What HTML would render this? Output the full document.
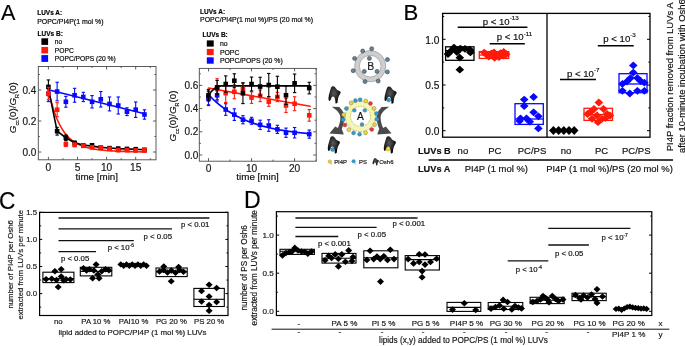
<!DOCTYPE html>
<html><head><meta charset="utf-8"><title>Figure</title>
<style>html,body{margin:0;padding:0;background:#fff;}svg{display:block;will-change:transform;}text{stroke:#111;stroke-width:0.18px;font-family:'Liberation Sans', Arial, Helvetica, sans-serif;}</style>
</head><body>
<svg width="685" height="346" viewBox="0 0 685 346">
<rect x="0" y="0" width="685" height="346" fill="#fff"/>
<text x="1.00" y="20.00" font-size="21.6" text-anchor="start" font-weight="normal" fill="#000" stroke="none">A</text>
<text x="403.40" y="19.80" font-size="22.2" text-anchor="start" font-weight="normal" fill="#000" stroke="none">B</text>
<text transform="translate(-0.9,208.7) scale(0.92,1)" font-size="24.6" fill="#000" stroke="none">C</text>
<text transform="translate(244.1,208.2) scale(0.97,1)" font-size="23.8" fill="#000" stroke="none">D</text>
<polyline points="48.40,89.69 145.59,114.03" fill="none" stroke="#0808ff" stroke-width="1.6" stroke-linejoin="round" stroke-linecap="round"/>
<polyline points="47.82,87.27 48.40,90.00 48.98,92.61 49.56,95.10 50.15,97.49 50.73,99.77 51.31,101.95 51.89,104.04 52.47,106.03 53.06,107.94 53.64,109.77 54.22,111.52 54.80,113.19 55.38,114.79 55.97,116.33 56.55,117.79 57.13,119.19 57.71,120.54 58.29,121.82 58.88,123.05 59.46,124.23 60.04,125.35 60.62,126.43 61.20,127.46 61.79,128.45 62.37,129.40 62.95,130.30 63.53,131.17 64.11,132.00 64.70,132.79 65.28,133.55 65.86,134.28 66.44,134.98 67.02,135.65 67.61,136.29 68.19,136.90 68.77,137.49 69.35,138.05 69.93,138.59 70.52,139.11 71.10,139.61 71.68,140.08 72.26,140.54 72.84,140.97 73.43,141.39 74.01,141.79 74.59,142.17 75.17,142.54 75.75,142.90 76.34,143.24 76.92,143.56 77.50,143.87 78.08,144.17 78.66,144.46 79.25,144.73 79.83,145.00 80.41,145.25 80.99,145.50 81.57,145.73 82.16,145.95 82.74,146.17 83.32,146.38 83.90,146.58 84.48,146.77 85.07,146.95 85.65,147.13 86.23,147.30 86.81,147.46 87.39,147.62 87.98,147.77 88.56,147.91 89.14,148.05 89.72,148.18 90.30,148.31 90.89,148.44 91.47,148.56 92.05,148.67 92.63,148.78 93.21,148.89 93.80,148.99 94.38,149.09 94.96,149.19 95.54,149.28 96.12,149.37 96.71,149.45 97.29,149.53 97.87,149.61 98.45,149.69 99.03,149.76 99.62,149.84 100.20,149.90 100.78,149.97 101.36,150.04 101.94,150.10 102.53,150.16 103.11,150.21 103.69,150.27 104.27,150.32 104.85,150.38 105.44,150.43 106.02,150.48 106.60,150.52 107.18,150.57 107.76,150.61 108.35,150.66 108.93,150.70 109.51,150.74 110.09,150.78 110.67,150.82 111.26,150.85 111.84,150.89 112.42,150.92 113.00,150.96 113.58,150.99 114.17,151.02 114.75,151.05 115.33,151.08 115.91,151.11 116.49,151.14 117.08,151.16 117.66,151.19 118.24,151.22 118.82,151.24 119.40,151.27 119.99,151.29 120.57,151.31 121.15,151.34 121.73,151.36 122.31,151.38 122.90,151.40 123.48,151.42 124.06,151.44 124.64,151.46 125.22,151.48 125.81,151.50 126.39,151.51 126.97,151.53 127.55,151.55 128.13,151.56 128.72,151.58 129.30,151.60 129.88,151.61 130.46,151.63 131.04,151.64 131.63,151.66 132.21,151.67 132.79,151.68 133.37,151.70 133.95,151.71 134.54,151.72 135.12,151.74 135.70,151.75 136.28,151.76 136.86,151.77 137.45,151.78 138.03,151.79 138.61,151.81 139.19,151.82 139.77,151.83 140.36,151.84 140.94,151.85 141.52,151.86 142.10,151.87 142.68,151.88 143.27,151.89 143.85,151.90 144.43,151.91 145.01,151.91 145.59,151.92 146.18,151.93" fill="none" stroke="#ff1a0a" stroke-width="1.6" stroke-linejoin="round" stroke-linecap="round"/>
<polyline points="48.40,88.45 57.13,131.07 65.86,137.74 74.59,142.70 83.32,145.03 92.05,146.11 100.78,147.35 109.51,147.97 118.24,148.59 126.97,148.90 135.70,149.21 144.43,149.68 146.18,149.68" fill="none" stroke="#000" stroke-width="1.6" stroke-linejoin="round" stroke-linecap="round"/>
<line x1="48.40" y1="86.12" x2="48.40" y2="101.62" stroke="#0808ff" stroke-width="1.1" />
<line x1="46.70" y1="86.12" x2="50.10" y2="86.12" stroke="#0808ff" stroke-width="1.1" />
<line x1="46.70" y1="101.62" x2="50.10" y2="101.62" stroke="#0808ff" stroke-width="1.1" />
<rect x="46.10" y="91.58" width="4.6" height="4.6" fill="#0808ff"/>
<line x1="57.13" y1="82.25" x2="57.13" y2="100.85" stroke="#0808ff" stroke-width="1.1" />
<line x1="55.43" y1="82.25" x2="58.83" y2="82.25" stroke="#0808ff" stroke-width="1.1" />
<line x1="55.43" y1="100.85" x2="58.83" y2="100.85" stroke="#0808ff" stroke-width="1.1" />
<rect x="54.83" y="89.25" width="4.6" height="4.6" fill="#0808ff"/>
<line x1="65.86" y1="96.36" x2="65.86" y2="107.20" stroke="#0808ff" stroke-width="1.1" />
<line x1="64.16" y1="96.36" x2="67.56" y2="96.36" stroke="#0808ff" stroke-width="1.1" />
<line x1="64.16" y1="107.20" x2="67.56" y2="107.20" stroke="#0808ff" stroke-width="1.1" />
<rect x="63.56" y="99.48" width="4.6" height="4.6" fill="#0808ff"/>
<line x1="74.59" y1="88.30" x2="74.59" y2="102.25" stroke="#0808ff" stroke-width="1.1" />
<line x1="72.89" y1="88.30" x2="76.29" y2="88.30" stroke="#0808ff" stroke-width="1.1" />
<line x1="72.89" y1="102.25" x2="76.29" y2="102.25" stroke="#0808ff" stroke-width="1.1" />
<rect x="72.29" y="92.97" width="4.6" height="4.6" fill="#0808ff"/>
<line x1="83.32" y1="92.32" x2="83.32" y2="101.62" stroke="#0808ff" stroke-width="1.1" />
<line x1="81.62" y1="92.32" x2="85.02" y2="92.32" stroke="#0808ff" stroke-width="1.1" />
<line x1="81.62" y1="101.62" x2="85.02" y2="101.62" stroke="#0808ff" stroke-width="1.1" />
<rect x="81.02" y="94.67" width="4.6" height="4.6" fill="#0808ff"/>
<line x1="92.05" y1="95.58" x2="92.05" y2="107.98" stroke="#0808ff" stroke-width="1.1" />
<line x1="90.35" y1="95.58" x2="93.75" y2="95.58" stroke="#0808ff" stroke-width="1.1" />
<line x1="90.35" y1="107.98" x2="93.75" y2="107.98" stroke="#0808ff" stroke-width="1.1" />
<rect x="89.75" y="99.48" width="4.6" height="4.6" fill="#0808ff"/>
<line x1="100.78" y1="91.55" x2="100.78" y2="107.05" stroke="#0808ff" stroke-width="1.1" />
<line x1="99.08" y1="91.55" x2="102.48" y2="91.55" stroke="#0808ff" stroke-width="1.1" />
<line x1="99.08" y1="107.05" x2="102.48" y2="107.05" stroke="#0808ff" stroke-width="1.1" />
<rect x="98.48" y="97.00" width="4.6" height="4.6" fill="#0808ff"/>
<line x1="109.51" y1="96.98" x2="109.51" y2="110.92" stroke="#0808ff" stroke-width="1.1" />
<line x1="107.81" y1="96.98" x2="111.21" y2="96.98" stroke="#0808ff" stroke-width="1.1" />
<line x1="107.81" y1="110.92" x2="111.21" y2="110.92" stroke="#0808ff" stroke-width="1.1" />
<rect x="107.21" y="101.65" width="4.6" height="4.6" fill="#0808ff"/>
<line x1="118.24" y1="96.97" x2="118.24" y2="114.03" stroke="#0808ff" stroke-width="1.1" />
<line x1="116.54" y1="96.97" x2="119.94" y2="96.97" stroke="#0808ff" stroke-width="1.1" />
<line x1="116.54" y1="114.03" x2="119.94" y2="114.03" stroke="#0808ff" stroke-width="1.1" />
<rect x="115.94" y="103.20" width="4.6" height="4.6" fill="#0808ff"/>
<line x1="126.97" y1="107.82" x2="126.97" y2="115.57" stroke="#0808ff" stroke-width="1.1" />
<line x1="125.27" y1="107.82" x2="128.67" y2="107.82" stroke="#0808ff" stroke-width="1.1" />
<line x1="125.27" y1="115.57" x2="128.67" y2="115.57" stroke="#0808ff" stroke-width="1.1" />
<rect x="124.67" y="109.40" width="4.6" height="4.6" fill="#0808ff"/>
<line x1="135.70" y1="101.94" x2="135.70" y2="117.44" stroke="#0808ff" stroke-width="1.1" />
<line x1="134.00" y1="101.94" x2="137.40" y2="101.94" stroke="#0808ff" stroke-width="1.1" />
<line x1="134.00" y1="117.44" x2="137.40" y2="117.44" stroke="#0808ff" stroke-width="1.1" />
<rect x="133.40" y="107.39" width="4.6" height="4.6" fill="#0808ff"/>
<line x1="144.43" y1="109.84" x2="144.43" y2="119.14" stroke="#0808ff" stroke-width="1.1" />
<line x1="142.73" y1="109.84" x2="146.13" y2="109.84" stroke="#0808ff" stroke-width="1.1" />
<line x1="142.73" y1="119.14" x2="146.13" y2="119.14" stroke="#0808ff" stroke-width="1.1" />
<rect x="142.13" y="112.19" width="4.6" height="4.6" fill="#0808ff"/>
<line x1="48.40" y1="79.93" x2="48.40" y2="93.88" stroke="#000" stroke-width="1.1" />
<line x1="46.70" y1="79.93" x2="50.10" y2="79.93" stroke="#000" stroke-width="1.1" />
<line x1="46.70" y1="93.88" x2="50.10" y2="93.88" stroke="#000" stroke-width="1.1" />
<rect x="46.10" y="84.60" width="4.6" height="4.6" fill="#000"/>
<line x1="57.13" y1="127.35" x2="57.13" y2="135.10" stroke="#000" stroke-width="1.1" />
<line x1="55.43" y1="127.35" x2="58.83" y2="127.35" stroke="#000" stroke-width="1.1" />
<line x1="55.43" y1="135.10" x2="58.83" y2="135.10" stroke="#000" stroke-width="1.1" />
<rect x="54.83" y="128.93" width="4.6" height="4.6" fill="#000"/>
<line x1="65.86" y1="134.95" x2="65.86" y2="140.53" stroke="#000" stroke-width="1.1" />
<line x1="64.16" y1="134.95" x2="67.56" y2="134.95" stroke="#000" stroke-width="1.1" />
<line x1="64.16" y1="140.53" x2="67.56" y2="140.53" stroke="#000" stroke-width="1.1" />
<rect x="63.56" y="135.44" width="4.6" height="4.6" fill="#000"/>
<line x1="74.59" y1="141.15" x2="74.59" y2="144.87" stroke="#000" stroke-width="1.1" />
<line x1="72.89" y1="141.15" x2="76.29" y2="141.15" stroke="#000" stroke-width="1.1" />
<line x1="72.89" y1="144.87" x2="76.29" y2="144.87" stroke="#000" stroke-width="1.1" />
<rect x="72.29" y="140.71" width="4.6" height="4.6" fill="#000"/>
<line x1="83.32" y1="143.94" x2="83.32" y2="147.04" stroke="#000" stroke-width="1.1" />
<line x1="81.62" y1="143.94" x2="85.02" y2="143.94" stroke="#000" stroke-width="1.1" />
<line x1="81.62" y1="147.04" x2="85.02" y2="147.04" stroke="#000" stroke-width="1.1" />
<rect x="81.02" y="143.19" width="4.6" height="4.6" fill="#000"/>
<line x1="92.05" y1="143.78" x2="92.05" y2="146.89" stroke="#000" stroke-width="1.1" />
<line x1="90.35" y1="143.78" x2="93.75" y2="143.78" stroke="#000" stroke-width="1.1" />
<line x1="90.35" y1="146.89" x2="93.75" y2="146.89" stroke="#000" stroke-width="1.1" />
<rect x="89.75" y="143.03" width="4.6" height="4.6" fill="#000"/>
<line x1="100.78" y1="146.11" x2="100.78" y2="148.59" stroke="#000" stroke-width="1.1" />
<line x1="99.08" y1="146.11" x2="102.48" y2="146.11" stroke="#000" stroke-width="1.1" />
<line x1="99.08" y1="148.59" x2="102.48" y2="148.59" stroke="#000" stroke-width="1.1" />
<rect x="98.48" y="145.05" width="4.6" height="4.6" fill="#000"/>
<line x1="109.51" y1="146.88" x2="109.51" y2="149.37" stroke="#000" stroke-width="1.1" />
<line x1="107.81" y1="146.88" x2="111.21" y2="146.88" stroke="#000" stroke-width="1.1" />
<line x1="107.81" y1="149.37" x2="111.21" y2="149.37" stroke="#000" stroke-width="1.1" />
<rect x="107.21" y="145.82" width="4.6" height="4.6" fill="#000"/>
<line x1="118.24" y1="147.35" x2="118.24" y2="149.83" stroke="#000" stroke-width="1.1" />
<line x1="116.54" y1="147.35" x2="119.94" y2="147.35" stroke="#000" stroke-width="1.1" />
<line x1="116.54" y1="149.83" x2="119.94" y2="149.83" stroke="#000" stroke-width="1.1" />
<rect x="115.94" y="146.29" width="4.6" height="4.6" fill="#000"/>
<line x1="126.97" y1="147.66" x2="126.97" y2="150.14" stroke="#000" stroke-width="1.1" />
<line x1="125.27" y1="147.66" x2="128.67" y2="147.66" stroke="#000" stroke-width="1.1" />
<line x1="125.27" y1="150.14" x2="128.67" y2="150.14" stroke="#000" stroke-width="1.1" />
<rect x="124.67" y="146.60" width="4.6" height="4.6" fill="#000"/>
<line x1="135.70" y1="147.97" x2="135.70" y2="150.45" stroke="#000" stroke-width="1.1" />
<line x1="134.00" y1="147.97" x2="137.40" y2="147.97" stroke="#000" stroke-width="1.1" />
<line x1="134.00" y1="150.45" x2="137.40" y2="150.45" stroke="#000" stroke-width="1.1" />
<rect x="133.40" y="146.91" width="4.6" height="4.6" fill="#000"/>
<line x1="144.43" y1="148.59" x2="144.43" y2="151.07" stroke="#000" stroke-width="1.1" />
<line x1="142.73" y1="148.59" x2="146.13" y2="148.59" stroke="#000" stroke-width="1.1" />
<line x1="142.73" y1="151.07" x2="146.13" y2="151.07" stroke="#000" stroke-width="1.1" />
<rect x="142.13" y="147.53" width="4.6" height="4.6" fill="#000"/>
<line x1="48.40" y1="87.36" x2="48.40" y2="99.77" stroke="#ff1a0a" stroke-width="1.1" />
<line x1="46.70" y1="87.36" x2="50.10" y2="87.36" stroke="#ff1a0a" stroke-width="1.1" />
<line x1="46.70" y1="99.77" x2="50.10" y2="99.77" stroke="#ff1a0a" stroke-width="1.1" />
<rect x="46.10" y="91.27" width="4.6" height="4.6" fill="#ff1a0a"/>
<line x1="57.13" y1="102.71" x2="57.13" y2="116.66" stroke="#ff1a0a" stroke-width="1.1" />
<line x1="55.43" y1="102.71" x2="58.83" y2="102.71" stroke="#ff1a0a" stroke-width="1.1" />
<line x1="55.43" y1="116.66" x2="58.83" y2="116.66" stroke="#ff1a0a" stroke-width="1.1" />
<rect x="54.83" y="107.39" width="4.6" height="4.6" fill="#ff1a0a"/>
<line x1="65.86" y1="141.93" x2="65.86" y2="146.57" stroke="#ff1a0a" stroke-width="1.1" />
<line x1="64.16" y1="141.93" x2="67.56" y2="141.93" stroke="#ff1a0a" stroke-width="1.1" />
<line x1="64.16" y1="146.57" x2="67.56" y2="146.57" stroke="#ff1a0a" stroke-width="1.1" />
<rect x="63.56" y="141.95" width="4.6" height="4.6" fill="#ff1a0a"/>
<line x1="74.59" y1="143.01" x2="74.59" y2="146.73" stroke="#ff1a0a" stroke-width="1.1" />
<line x1="72.89" y1="143.01" x2="76.29" y2="143.01" stroke="#ff1a0a" stroke-width="1.1" />
<line x1="72.89" y1="146.73" x2="76.29" y2="146.73" stroke="#ff1a0a" stroke-width="1.1" />
<rect x="72.29" y="142.57" width="4.6" height="4.6" fill="#ff1a0a"/>
<line x1="83.32" y1="144.25" x2="83.32" y2="147.35" stroke="#ff1a0a" stroke-width="1.1" />
<line x1="81.62" y1="144.25" x2="85.02" y2="144.25" stroke="#ff1a0a" stroke-width="1.1" />
<line x1="81.62" y1="147.35" x2="85.02" y2="147.35" stroke="#ff1a0a" stroke-width="1.1" />
<rect x="81.02" y="143.50" width="4.6" height="4.6" fill="#ff1a0a"/>
<line x1="92.05" y1="145.80" x2="92.05" y2="148.90" stroke="#ff1a0a" stroke-width="1.1" />
<line x1="90.35" y1="145.80" x2="93.75" y2="145.80" stroke="#ff1a0a" stroke-width="1.1" />
<line x1="90.35" y1="148.90" x2="93.75" y2="148.90" stroke="#ff1a0a" stroke-width="1.1" />
<rect x="89.75" y="145.05" width="4.6" height="4.6" fill="#ff1a0a"/>
<line x1="100.78" y1="145.80" x2="100.78" y2="148.90" stroke="#ff1a0a" stroke-width="1.1" />
<line x1="99.08" y1="145.80" x2="102.48" y2="145.80" stroke="#ff1a0a" stroke-width="1.1" />
<line x1="99.08" y1="148.90" x2="102.48" y2="148.90" stroke="#ff1a0a" stroke-width="1.1" />
<rect x="98.48" y="145.05" width="4.6" height="4.6" fill="#ff1a0a"/>
<line x1="109.51" y1="147.35" x2="109.51" y2="150.45" stroke="#ff1a0a" stroke-width="1.1" />
<line x1="107.81" y1="147.35" x2="111.21" y2="147.35" stroke="#ff1a0a" stroke-width="1.1" />
<line x1="107.81" y1="150.45" x2="111.21" y2="150.45" stroke="#ff1a0a" stroke-width="1.1" />
<rect x="107.21" y="146.60" width="4.6" height="4.6" fill="#ff1a0a"/>
<line x1="118.24" y1="148.59" x2="118.24" y2="151.69" stroke="#ff1a0a" stroke-width="1.1" />
<line x1="116.54" y1="148.59" x2="119.94" y2="148.59" stroke="#ff1a0a" stroke-width="1.1" />
<line x1="116.54" y1="151.69" x2="119.94" y2="151.69" stroke="#ff1a0a" stroke-width="1.1" />
<rect x="115.94" y="147.84" width="4.6" height="4.6" fill="#ff1a0a"/>
<line x1="126.97" y1="148.59" x2="126.97" y2="151.69" stroke="#ff1a0a" stroke-width="1.1" />
<line x1="125.27" y1="148.59" x2="128.67" y2="148.59" stroke="#ff1a0a" stroke-width="1.1" />
<line x1="125.27" y1="151.69" x2="128.67" y2="151.69" stroke="#ff1a0a" stroke-width="1.1" />
<rect x="124.67" y="147.84" width="4.6" height="4.6" fill="#ff1a0a"/>
<line x1="135.70" y1="148.90" x2="135.70" y2="152.00" stroke="#ff1a0a" stroke-width="1.1" />
<line x1="134.00" y1="148.90" x2="137.40" y2="148.90" stroke="#ff1a0a" stroke-width="1.1" />
<line x1="134.00" y1="152.00" x2="137.40" y2="152.00" stroke="#ff1a0a" stroke-width="1.1" />
<rect x="133.40" y="148.15" width="4.6" height="4.6" fill="#ff1a0a"/>
<line x1="144.43" y1="148.28" x2="144.43" y2="152.00" stroke="#ff1a0a" stroke-width="1.1" />
<line x1="142.73" y1="148.28" x2="146.13" y2="148.28" stroke="#ff1a0a" stroke-width="1.1" />
<line x1="142.73" y1="152.00" x2="146.13" y2="152.00" stroke="#ff1a0a" stroke-width="1.1" />
<rect x="142.13" y="147.84" width="4.6" height="4.6" fill="#ff1a0a"/>
<rect x="38.30" y="66.50" width="117.70" height="93.30" stroke="#4a4a4a" stroke-width="0.9" fill="none"/>
<line x1="38.30" y1="152.00" x2="41.30" y2="152.00" stroke="#4a4a4a" stroke-width="0.9" />
<line x1="153.00" y1="152.00" x2="156.00" y2="152.00" stroke="#4a4a4a" stroke-width="0.9" />
<text x="36.40" y="155.60" font-size="10" text-anchor="end" font-weight="normal" fill="#222" >0.0</text>
<line x1="38.30" y1="121.00" x2="41.30" y2="121.00" stroke="#4a4a4a" stroke-width="0.9" />
<line x1="153.00" y1="121.00" x2="156.00" y2="121.00" stroke="#4a4a4a" stroke-width="0.9" />
<text x="36.40" y="124.60" font-size="10" text-anchor="end" font-weight="normal" fill="#222" >0.2</text>
<line x1="38.30" y1="90.00" x2="41.30" y2="90.00" stroke="#4a4a4a" stroke-width="0.9" />
<line x1="153.00" y1="90.00" x2="156.00" y2="90.00" stroke="#4a4a4a" stroke-width="0.9" />
<text x="36.40" y="93.60" font-size="10" text-anchor="end" font-weight="normal" fill="#222" >0.4</text>
<line x1="38.30" y1="136.50" x2="39.90" y2="136.50" stroke="#4a4a4a" stroke-width="0.9" />
<line x1="154.40" y1="136.50" x2="156.00" y2="136.50" stroke="#4a4a4a" stroke-width="0.9" />
<line x1="38.30" y1="105.50" x2="39.90" y2="105.50" stroke="#4a4a4a" stroke-width="0.9" />
<line x1="154.40" y1="105.50" x2="156.00" y2="105.50" stroke="#4a4a4a" stroke-width="0.9" />
<line x1="38.30" y1="74.50" x2="39.90" y2="74.50" stroke="#4a4a4a" stroke-width="0.9" />
<line x1="154.40" y1="74.50" x2="156.00" y2="74.50" stroke="#4a4a4a" stroke-width="0.9" />
<line x1="48.40" y1="159.80" x2="48.40" y2="156.80" stroke="#4a4a4a" stroke-width="0.9" />
<line x1="48.40" y1="66.50" x2="48.40" y2="69.50" stroke="#4a4a4a" stroke-width="0.9" />
<text x="48.40" y="171.00" font-size="10.2" text-anchor="middle" font-weight="normal" fill="#222" >0</text>
<line x1="77.50" y1="159.80" x2="77.50" y2="156.80" stroke="#4a4a4a" stroke-width="0.9" />
<line x1="77.50" y1="66.50" x2="77.50" y2="69.50" stroke="#4a4a4a" stroke-width="0.9" />
<text x="77.50" y="171.00" font-size="10.2" text-anchor="middle" font-weight="normal" fill="#222" >5</text>
<line x1="106.60" y1="159.80" x2="106.60" y2="156.80" stroke="#4a4a4a" stroke-width="0.9" />
<line x1="106.60" y1="66.50" x2="106.60" y2="69.50" stroke="#4a4a4a" stroke-width="0.9" />
<text x="106.60" y="171.00" font-size="10.2" text-anchor="middle" font-weight="normal" fill="#222" >10</text>
<line x1="135.70" y1="159.80" x2="135.70" y2="156.80" stroke="#4a4a4a" stroke-width="0.9" />
<line x1="135.70" y1="66.50" x2="135.70" y2="69.50" stroke="#4a4a4a" stroke-width="0.9" />
<text x="135.70" y="171.00" font-size="10.2" text-anchor="middle" font-weight="normal" fill="#222" >15</text>
<line x1="62.95" y1="159.80" x2="62.95" y2="158.20" stroke="#4a4a4a" stroke-width="0.9" />
<line x1="62.95" y1="66.50" x2="62.95" y2="68.10" stroke="#4a4a4a" stroke-width="0.9" />
<line x1="92.05" y1="159.80" x2="92.05" y2="158.20" stroke="#4a4a4a" stroke-width="0.9" />
<line x1="92.05" y1="66.50" x2="92.05" y2="68.10" stroke="#4a4a4a" stroke-width="0.9" />
<line x1="121.15" y1="159.80" x2="121.15" y2="158.20" stroke="#4a4a4a" stroke-width="0.9" />
<line x1="121.15" y1="66.50" x2="121.15" y2="68.10" stroke="#4a4a4a" stroke-width="0.9" />
<line x1="150.25" y1="159.80" x2="150.25" y2="158.20" stroke="#4a4a4a" stroke-width="0.9" />
<line x1="150.25" y1="66.50" x2="150.25" y2="68.10" stroke="#4a4a4a" stroke-width="0.9" />
<text x="96.80" y="179.80" font-size="9.8" text-anchor="middle" font-weight="normal" fill="#111" >time [min]</text>
<text transform="translate(15.7,133.2) rotate(-90)" font-size="9.75" fill="#222"><tspan font-style="italic">G</tspan><tspan font-size="5.4" dy="3.4">cc</tspan><tspan dy="-3.4">(0)/</tspan><tspan font-style="italic">G</tspan><tspan font-size="5.4" dy="3.4">R</tspan><tspan dy="-3.4">(0)</tspan></text>
<text x="37.20" y="14.90" font-size="6.5" text-anchor="start" font-weight="bold" fill="#000" >LUVs A:</text>
<text x="37.20" y="23.80" font-size="6.95" text-anchor="start" font-weight="normal" fill="#000" >POPC/PI4P(1 mol %)</text>
<text x="37.60" y="35.70" font-size="6.5" text-anchor="start" font-weight="bold" fill="#000" >LUVs B:</text>
<rect x="41.40" y="38.30" width="6.70" height="6.60" stroke="none" stroke-width="0" fill="#000"/>
<rect x="41.40" y="46.90" width="6.70" height="6.50" stroke="none" stroke-width="0" fill="#ff1a0a"/>
<rect x="41.40" y="55.10" width="6.70" height="6.80" stroke="none" stroke-width="0" fill="#0808ff"/>
<text x="54.80" y="43.70" font-size="6.7" text-anchor="start" font-weight="normal" fill="#000" >no</text>
<text x="54.80" y="52.50" font-size="6.7" text-anchor="start" font-weight="normal" fill="#000" >POPC</text>
<text x="54.80" y="60.80" font-size="6.7" text-anchor="start" font-weight="normal" fill="#000" >POPC/POPS (20 %)</text>
<polyline points="208.50,88.07 310.10,106.28" fill="none" stroke="#ff1a0a" stroke-width="1.6" stroke-linejoin="round" stroke-linecap="round"/>
<polyline points="208.50,94.68 212.81,90.04 217.11,86.33 221.41,85.86 310.10,85.86" fill="none" stroke="#000" stroke-width="1.6" stroke-linejoin="round" stroke-linecap="round"/>
<polyline points="208.50,94.68 208.93,95.13 209.36,95.58 209.79,96.02 210.22,96.46 210.65,96.90 211.08,97.33 211.51,97.75 211.94,98.17 212.37,98.59 212.81,99.00 213.24,99.40 213.67,99.81 214.10,100.20 214.53,100.60 214.96,100.99 215.39,101.37 215.82,101.75 216.25,102.13 216.68,102.50 217.11,102.87 217.54,103.24 217.97,103.60 218.40,103.96 218.83,104.31 219.26,104.66 219.69,105.01 220.12,105.35 220.55,105.69 220.98,106.02 221.41,106.35 221.85,106.68 222.28,107.01 222.71,107.33 223.14,107.65 223.57,107.96 224.00,108.27 224.43,108.58 224.86,108.88 225.29,109.18 225.72,109.48 226.15,109.77 226.58,110.07 227.01,110.35 227.44,110.64 227.87,110.92 228.30,111.20 228.73,111.48 229.16,111.75 229.59,112.02 230.03,112.29 230.46,112.55 230.89,112.81 231.32,113.07 231.75,113.33 232.18,113.58 232.61,113.83 233.04,114.08 233.47,114.33 233.90,114.57 234.33,114.81 234.76,115.05 235.19,115.28 235.62,115.51 236.05,115.74 236.48,115.97 236.91,116.20 237.34,116.42 237.77,116.64 238.20,116.86 238.63,117.07 239.07,117.29 239.50,117.50 239.93,117.71 240.36,117.91 240.79,118.12 241.22,118.32 241.65,118.52 242.08,118.72 242.51,118.91 242.94,119.11 243.37,119.30 243.80,119.49 244.23,119.68 244.66,119.86 245.09,120.04 245.52,120.23 245.95,120.41 246.38,120.58 246.81,120.76 247.25,120.93 247.68,121.11 248.11,121.28 248.54,121.44 248.97,121.61 249.40,121.78 249.83,121.94 250.26,122.10 250.69,122.26 251.12,122.42 251.55,122.57 251.98,122.73 252.41,122.88 252.84,123.03 253.27,123.18 253.70,123.33 254.13,123.48 254.56,123.62 254.99,123.76 255.42,123.91 255.85,124.05 256.29,124.18 256.72,124.32 257.15,124.46 257.58,124.59 258.01,124.73 258.44,124.86 258.87,124.99 259.30,125.12 259.73,125.24 260.16,125.37 260.59,125.49 261.02,125.62 261.45,125.74 261.88,125.86 262.31,125.98 262.74,126.10 263.17,126.21 263.60,126.33 264.03,126.44 264.46,126.56 264.90,126.67 265.33,126.78 265.76,126.89 266.19,127.00 266.62,127.10 267.05,127.21 267.48,127.32 267.91,127.42 268.34,127.52 268.77,127.62 269.20,127.72 269.63,127.82 270.06,127.92 270.49,128.02 270.92,128.12 271.35,128.21 271.78,128.30 272.21,128.40 272.64,128.49 273.07,128.58 273.51,128.67 273.94,128.76 274.37,128.85 274.80,128.94 275.23,129.02 275.66,129.11 276.09,129.19 276.52,129.28 276.95,129.36 277.38,129.44 277.81,129.52 278.24,129.60 278.67,129.68 279.10,129.76 279.53,129.84 279.96,129.92 280.39,129.99 280.82,130.07 281.25,130.14 281.69,130.21 282.12,130.29 282.55,130.36 282.98,130.43 283.41,130.50 283.84,130.57 284.27,130.64 284.70,130.71 285.13,130.78 285.56,130.84 285.99,130.91 286.42,130.97 286.85,131.04 287.28,131.10 287.71,131.17 288.14,131.23 288.57,131.29 289.00,131.35 289.43,131.41 289.86,131.47 290.29,131.53 290.73,131.59 291.16,131.65 291.59,131.71 292.02,131.76 292.45,131.82 292.88,131.87 293.31,131.93 293.74,131.98 294.17,132.04 294.60,132.09 295.03,132.14 295.46,132.20 295.89,132.25 296.32,132.30 296.75,132.35 297.18,132.40 297.61,132.45 298.04,132.50 298.47,132.55 298.90,132.59 299.34,132.64 299.77,132.69 300.20,132.73 300.63,132.78 301.06,132.82 301.49,132.87 301.92,132.91 302.35,132.96 302.78,133.00 303.21,133.04 303.64,133.09 304.07,133.13 304.50,133.17 304.93,133.21 305.36,133.25 305.79,133.29 306.22,133.33 306.65,133.37 307.08,133.41 307.51,133.45 307.95,133.49 308.38,133.53 308.81,133.56 309.24,133.60 309.67,133.64 310.10,133.67" fill="none" stroke="#0808ff" stroke-width="1.7" stroke-linejoin="round" stroke-linecap="round"/>
<line x1="208.50" y1="90.62" x2="208.50" y2="104.54" stroke="#ff1a0a" stroke-width="1.1" />
<line x1="206.80" y1="90.62" x2="210.20" y2="90.62" stroke="#ff1a0a" stroke-width="1.1" />
<line x1="206.80" y1="104.54" x2="210.20" y2="104.54" stroke="#ff1a0a" stroke-width="1.1" />
<rect x="206.20" y="95.28" width="4.6" height="4.6" fill="#ff1a0a"/>
<line x1="217.11" y1="78.67" x2="217.11" y2="99.55" stroke="#ff1a0a" stroke-width="1.1" />
<line x1="215.41" y1="78.67" x2="218.81" y2="78.67" stroke="#ff1a0a" stroke-width="1.1" />
<line x1="215.41" y1="99.55" x2="218.81" y2="99.55" stroke="#ff1a0a" stroke-width="1.1" />
<rect x="214.81" y="86.81" width="4.6" height="4.6" fill="#ff1a0a"/>
<line x1="225.72" y1="83.89" x2="225.72" y2="102.45" stroke="#ff1a0a" stroke-width="1.1" />
<line x1="224.02" y1="83.89" x2="227.42" y2="83.89" stroke="#ff1a0a" stroke-width="1.1" />
<line x1="224.02" y1="102.45" x2="227.42" y2="102.45" stroke="#ff1a0a" stroke-width="1.1" />
<rect x="223.42" y="90.87" width="4.6" height="4.6" fill="#ff1a0a"/>
<line x1="234.33" y1="84.82" x2="234.33" y2="98.74" stroke="#ff1a0a" stroke-width="1.1" />
<line x1="232.63" y1="84.82" x2="236.03" y2="84.82" stroke="#ff1a0a" stroke-width="1.1" />
<line x1="232.63" y1="98.74" x2="236.03" y2="98.74" stroke="#ff1a0a" stroke-width="1.1" />
<rect x="232.03" y="89.48" width="4.6" height="4.6" fill="#ff1a0a"/>
<line x1="242.94" y1="83.31" x2="242.94" y2="94.91" stroke="#ff1a0a" stroke-width="1.1" />
<line x1="241.24" y1="83.31" x2="244.64" y2="83.31" stroke="#ff1a0a" stroke-width="1.1" />
<line x1="241.24" y1="94.91" x2="244.64" y2="94.91" stroke="#ff1a0a" stroke-width="1.1" />
<rect x="240.64" y="86.81" width="4.6" height="4.6" fill="#ff1a0a"/>
<line x1="251.55" y1="91.78" x2="251.55" y2="103.38" stroke="#ff1a0a" stroke-width="1.1" />
<line x1="249.85" y1="91.78" x2="253.25" y2="91.78" stroke="#ff1a0a" stroke-width="1.1" />
<line x1="249.85" y1="103.38" x2="253.25" y2="103.38" stroke="#ff1a0a" stroke-width="1.1" />
<rect x="249.25" y="95.28" width="4.6" height="4.6" fill="#ff1a0a"/>
<line x1="260.16" y1="90.04" x2="260.16" y2="101.64" stroke="#ff1a0a" stroke-width="1.1" />
<line x1="258.46" y1="90.04" x2="261.86" y2="90.04" stroke="#ff1a0a" stroke-width="1.1" />
<line x1="258.46" y1="101.64" x2="261.86" y2="101.64" stroke="#ff1a0a" stroke-width="1.1" />
<rect x="257.86" y="93.54" width="4.6" height="4.6" fill="#ff1a0a"/>
<line x1="268.77" y1="97.00" x2="268.77" y2="106.28" stroke="#ff1a0a" stroke-width="1.1" />
<line x1="267.07" y1="97.00" x2="270.47" y2="97.00" stroke="#ff1a0a" stroke-width="1.1" />
<line x1="267.07" y1="106.28" x2="270.47" y2="106.28" stroke="#ff1a0a" stroke-width="1.1" />
<rect x="266.47" y="99.34" width="4.6" height="4.6" fill="#ff1a0a"/>
<line x1="277.38" y1="92.36" x2="277.38" y2="101.64" stroke="#ff1a0a" stroke-width="1.1" />
<line x1="275.68" y1="92.36" x2="279.08" y2="92.36" stroke="#ff1a0a" stroke-width="1.1" />
<line x1="275.68" y1="101.64" x2="279.08" y2="101.64" stroke="#ff1a0a" stroke-width="1.1" />
<rect x="275.08" y="94.70" width="4.6" height="4.6" fill="#ff1a0a"/>
<line x1="285.99" y1="98.51" x2="285.99" y2="112.43" stroke="#ff1a0a" stroke-width="1.1" />
<line x1="284.29" y1="98.51" x2="287.69" y2="98.51" stroke="#ff1a0a" stroke-width="1.1" />
<line x1="284.29" y1="112.43" x2="287.69" y2="112.43" stroke="#ff1a0a" stroke-width="1.1" />
<rect x="283.69" y="103.17" width="4.6" height="4.6" fill="#ff1a0a"/>
<line x1="294.60" y1="96.77" x2="294.60" y2="110.69" stroke="#ff1a0a" stroke-width="1.1" />
<line x1="292.90" y1="96.77" x2="296.30" y2="96.77" stroke="#ff1a0a" stroke-width="1.1" />
<line x1="292.90" y1="110.69" x2="296.30" y2="110.69" stroke="#ff1a0a" stroke-width="1.1" />
<rect x="292.30" y="101.43" width="4.6" height="4.6" fill="#ff1a0a"/>
<line x1="309.24" y1="109.53" x2="309.24" y2="121.13" stroke="#ff1a0a" stroke-width="1.1" />
<line x1="307.54" y1="109.53" x2="310.94" y2="109.53" stroke="#ff1a0a" stroke-width="1.1" />
<line x1="307.54" y1="121.13" x2="310.94" y2="121.13" stroke="#ff1a0a" stroke-width="1.1" />
<rect x="306.94" y="113.03" width="4.6" height="4.6" fill="#ff1a0a"/>
<line x1="208.50" y1="91.66" x2="208.50" y2="105.58" stroke="#0808ff" stroke-width="1.1" />
<line x1="206.80" y1="91.66" x2="210.20" y2="91.66" stroke="#0808ff" stroke-width="1.1" />
<line x1="206.80" y1="105.58" x2="210.20" y2="105.58" stroke="#0808ff" stroke-width="1.1" />
<rect x="206.20" y="96.32" width="4.6" height="4.6" fill="#0808ff"/>
<line x1="217.11" y1="89.46" x2="217.11" y2="101.06" stroke="#0808ff" stroke-width="1.1" />
<line x1="215.41" y1="89.46" x2="218.81" y2="89.46" stroke="#0808ff" stroke-width="1.1" />
<line x1="215.41" y1="101.06" x2="218.81" y2="101.06" stroke="#0808ff" stroke-width="1.1" />
<rect x="214.81" y="92.96" width="4.6" height="4.6" fill="#0808ff"/>
<line x1="225.72" y1="103.73" x2="225.72" y2="115.33" stroke="#0808ff" stroke-width="1.1" />
<line x1="224.02" y1="103.73" x2="227.42" y2="103.73" stroke="#0808ff" stroke-width="1.1" />
<line x1="224.02" y1="115.33" x2="227.42" y2="115.33" stroke="#0808ff" stroke-width="1.1" />
<rect x="223.42" y="107.23" width="4.6" height="4.6" fill="#0808ff"/>
<line x1="234.33" y1="108.83" x2="234.33" y2="120.43" stroke="#0808ff" stroke-width="1.1" />
<line x1="232.63" y1="108.83" x2="236.03" y2="108.83" stroke="#0808ff" stroke-width="1.1" />
<line x1="232.63" y1="120.43" x2="236.03" y2="120.43" stroke="#0808ff" stroke-width="1.1" />
<rect x="232.03" y="112.33" width="4.6" height="4.6" fill="#0808ff"/>
<line x1="242.94" y1="115.68" x2="242.94" y2="123.80" stroke="#0808ff" stroke-width="1.1" />
<line x1="241.24" y1="115.68" x2="244.64" y2="115.68" stroke="#0808ff" stroke-width="1.1" />
<line x1="241.24" y1="123.80" x2="244.64" y2="123.80" stroke="#0808ff" stroke-width="1.1" />
<rect x="240.64" y="117.44" width="4.6" height="4.6" fill="#0808ff"/>
<line x1="251.55" y1="117.30" x2="251.55" y2="124.26" stroke="#0808ff" stroke-width="1.1" />
<line x1="249.85" y1="117.30" x2="253.25" y2="117.30" stroke="#0808ff" stroke-width="1.1" />
<line x1="249.85" y1="124.26" x2="253.25" y2="124.26" stroke="#0808ff" stroke-width="1.1" />
<rect x="249.25" y="118.48" width="4.6" height="4.6" fill="#0808ff"/>
<line x1="260.16" y1="120.20" x2="260.16" y2="129.48" stroke="#0808ff" stroke-width="1.1" />
<line x1="258.46" y1="120.20" x2="261.86" y2="120.20" stroke="#0808ff" stroke-width="1.1" />
<line x1="258.46" y1="129.48" x2="261.86" y2="129.48" stroke="#0808ff" stroke-width="1.1" />
<rect x="257.86" y="122.54" width="4.6" height="4.6" fill="#0808ff"/>
<line x1="268.77" y1="119.74" x2="268.77" y2="131.34" stroke="#0808ff" stroke-width="1.1" />
<line x1="267.07" y1="119.74" x2="270.47" y2="119.74" stroke="#0808ff" stroke-width="1.1" />
<line x1="267.07" y1="131.34" x2="270.47" y2="131.34" stroke="#0808ff" stroke-width="1.1" />
<rect x="266.47" y="123.24" width="4.6" height="4.6" fill="#0808ff"/>
<line x1="277.38" y1="125.30" x2="277.38" y2="133.42" stroke="#0808ff" stroke-width="1.1" />
<line x1="275.68" y1="125.30" x2="279.08" y2="125.30" stroke="#0808ff" stroke-width="1.1" />
<line x1="275.68" y1="133.42" x2="279.08" y2="133.42" stroke="#0808ff" stroke-width="1.1" />
<rect x="275.08" y="127.06" width="4.6" height="4.6" fill="#0808ff"/>
<line x1="285.99" y1="128.09" x2="285.99" y2="137.37" stroke="#0808ff" stroke-width="1.1" />
<line x1="284.29" y1="128.09" x2="287.69" y2="128.09" stroke="#0808ff" stroke-width="1.1" />
<line x1="284.29" y1="137.37" x2="287.69" y2="137.37" stroke="#0808ff" stroke-width="1.1" />
<rect x="283.69" y="130.43" width="4.6" height="4.6" fill="#0808ff"/>
<line x1="294.60" y1="127.51" x2="294.60" y2="137.95" stroke="#0808ff" stroke-width="1.1" />
<line x1="292.90" y1="127.51" x2="296.30" y2="127.51" stroke="#0808ff" stroke-width="1.1" />
<line x1="292.90" y1="137.95" x2="296.30" y2="137.95" stroke="#0808ff" stroke-width="1.1" />
<rect x="292.30" y="130.43" width="4.6" height="4.6" fill="#0808ff"/>
<line x1="309.24" y1="130.06" x2="309.24" y2="138.18" stroke="#0808ff" stroke-width="1.1" />
<line x1="307.54" y1="130.06" x2="310.94" y2="130.06" stroke="#0808ff" stroke-width="1.1" />
<line x1="307.54" y1="138.18" x2="310.94" y2="138.18" stroke="#0808ff" stroke-width="1.1" />
<rect x="306.94" y="131.82" width="4.6" height="4.6" fill="#0808ff"/>
<line x1="208.50" y1="89.46" x2="208.50" y2="101.06" stroke="#000" stroke-width="1.1" />
<line x1="206.80" y1="89.46" x2="210.20" y2="89.46" stroke="#000" stroke-width="1.1" />
<line x1="206.80" y1="101.06" x2="210.20" y2="101.06" stroke="#000" stroke-width="1.1" />
<rect x="206.20" y="92.96" width="4.6" height="4.6" fill="#000"/>
<line x1="217.11" y1="80.41" x2="217.11" y2="94.33" stroke="#000" stroke-width="1.1" />
<line x1="215.41" y1="80.41" x2="218.81" y2="80.41" stroke="#000" stroke-width="1.1" />
<line x1="215.41" y1="94.33" x2="218.81" y2="94.33" stroke="#000" stroke-width="1.1" />
<rect x="214.81" y="85.07" width="4.6" height="4.6" fill="#000"/>
<line x1="225.72" y1="75.89" x2="225.72" y2="92.13" stroke="#000" stroke-width="1.1" />
<line x1="224.02" y1="75.89" x2="227.42" y2="75.89" stroke="#000" stroke-width="1.1" />
<line x1="224.02" y1="92.13" x2="227.42" y2="92.13" stroke="#000" stroke-width="1.1" />
<rect x="223.42" y="81.71" width="4.6" height="4.6" fill="#000"/>
<line x1="234.33" y1="73.80" x2="234.33" y2="87.72" stroke="#000" stroke-width="1.1" />
<line x1="232.63" y1="73.80" x2="236.03" y2="73.80" stroke="#000" stroke-width="1.1" />
<line x1="232.63" y1="87.72" x2="236.03" y2="87.72" stroke="#000" stroke-width="1.1" />
<rect x="232.03" y="78.46" width="4.6" height="4.6" fill="#000"/>
<line x1="242.94" y1="82.73" x2="242.94" y2="103.61" stroke="#000" stroke-width="1.1" />
<line x1="241.24" y1="82.73" x2="244.64" y2="82.73" stroke="#000" stroke-width="1.1" />
<line x1="241.24" y1="103.61" x2="244.64" y2="103.61" stroke="#000" stroke-width="1.1" />
<rect x="240.64" y="90.87" width="4.6" height="4.6" fill="#000"/>
<line x1="251.55" y1="77.05" x2="251.55" y2="90.97" stroke="#000" stroke-width="1.1" />
<line x1="249.85" y1="77.05" x2="253.25" y2="77.05" stroke="#000" stroke-width="1.1" />
<line x1="249.85" y1="90.97" x2="253.25" y2="90.97" stroke="#000" stroke-width="1.1" />
<rect x="249.25" y="81.71" width="4.6" height="4.6" fill="#000"/>
<line x1="260.16" y1="77.28" x2="260.16" y2="95.84" stroke="#000" stroke-width="1.1" />
<line x1="258.46" y1="77.28" x2="261.86" y2="77.28" stroke="#000" stroke-width="1.1" />
<line x1="258.46" y1="95.84" x2="261.86" y2="95.84" stroke="#000" stroke-width="1.1" />
<rect x="257.86" y="84.26" width="4.6" height="4.6" fill="#000"/>
<line x1="268.77" y1="73.45" x2="268.77" y2="96.65" stroke="#000" stroke-width="1.1" />
<line x1="267.07" y1="73.45" x2="270.47" y2="73.45" stroke="#000" stroke-width="1.1" />
<line x1="267.07" y1="96.65" x2="270.47" y2="96.65" stroke="#000" stroke-width="1.1" />
<rect x="266.47" y="82.75" width="4.6" height="4.6" fill="#000"/>
<line x1="277.38" y1="76.24" x2="277.38" y2="97.12" stroke="#000" stroke-width="1.1" />
<line x1="275.68" y1="76.24" x2="279.08" y2="76.24" stroke="#000" stroke-width="1.1" />
<line x1="275.68" y1="97.12" x2="279.08" y2="97.12" stroke="#000" stroke-width="1.1" />
<rect x="275.08" y="84.38" width="4.6" height="4.6" fill="#000"/>
<line x1="285.99" y1="85.98" x2="285.99" y2="104.54" stroke="#000" stroke-width="1.1" />
<line x1="284.29" y1="85.98" x2="287.69" y2="85.98" stroke="#000" stroke-width="1.1" />
<line x1="284.29" y1="104.54" x2="287.69" y2="104.54" stroke="#000" stroke-width="1.1" />
<rect x="283.69" y="92.96" width="4.6" height="4.6" fill="#000"/>
<line x1="294.60" y1="74.03" x2="294.60" y2="92.59" stroke="#000" stroke-width="1.1" />
<line x1="292.90" y1="74.03" x2="296.30" y2="74.03" stroke="#000" stroke-width="1.1" />
<line x1="292.90" y1="92.59" x2="296.30" y2="92.59" stroke="#000" stroke-width="1.1" />
<rect x="292.30" y="81.01" width="4.6" height="4.6" fill="#000"/>
<line x1="309.24" y1="82.27" x2="309.24" y2="93.87" stroke="#000" stroke-width="1.1" />
<line x1="307.54" y1="82.27" x2="310.94" y2="82.27" stroke="#000" stroke-width="1.1" />
<line x1="307.54" y1="93.87" x2="310.94" y2="93.87" stroke="#000" stroke-width="1.1" />
<rect x="306.94" y="85.77" width="4.6" height="4.6" fill="#000"/>
<rect x="199.30" y="68.40" width="116.90" height="92.80" stroke="#4a4a4a" stroke-width="0.9" fill="none"/>
<line x1="199.30" y1="155.00" x2="202.30" y2="155.00" stroke="#4a4a4a" stroke-width="0.9" />
<line x1="313.20" y1="155.00" x2="316.20" y2="155.00" stroke="#4a4a4a" stroke-width="0.9" />
<text x="198.30" y="158.60" font-size="10" text-anchor="end" font-weight="normal" fill="#222" >0.0</text>
<line x1="199.30" y1="131.80" x2="202.30" y2="131.80" stroke="#4a4a4a" stroke-width="0.9" />
<line x1="313.20" y1="131.80" x2="316.20" y2="131.80" stroke="#4a4a4a" stroke-width="0.9" />
<text x="198.30" y="135.40" font-size="10" text-anchor="end" font-weight="normal" fill="#222" >0.2</text>
<line x1="199.30" y1="108.60" x2="202.30" y2="108.60" stroke="#4a4a4a" stroke-width="0.9" />
<line x1="313.20" y1="108.60" x2="316.20" y2="108.60" stroke="#4a4a4a" stroke-width="0.9" />
<text x="198.30" y="112.20" font-size="10" text-anchor="end" font-weight="normal" fill="#222" >0.4</text>
<line x1="199.30" y1="85.40" x2="202.30" y2="85.40" stroke="#4a4a4a" stroke-width="0.9" />
<line x1="313.20" y1="85.40" x2="316.20" y2="85.40" stroke="#4a4a4a" stroke-width="0.9" />
<text x="198.30" y="89.00" font-size="10" text-anchor="end" font-weight="normal" fill="#222" >0.6</text>
<line x1="199.30" y1="143.40" x2="200.90" y2="143.40" stroke="#4a4a4a" stroke-width="0.9" />
<line x1="314.60" y1="143.40" x2="316.20" y2="143.40" stroke="#4a4a4a" stroke-width="0.9" />
<line x1="199.30" y1="120.20" x2="200.90" y2="120.20" stroke="#4a4a4a" stroke-width="0.9" />
<line x1="314.60" y1="120.20" x2="316.20" y2="120.20" stroke="#4a4a4a" stroke-width="0.9" />
<line x1="199.30" y1="97.00" x2="200.90" y2="97.00" stroke="#4a4a4a" stroke-width="0.9" />
<line x1="314.60" y1="97.00" x2="316.20" y2="97.00" stroke="#4a4a4a" stroke-width="0.9" />
<line x1="199.30" y1="73.80" x2="200.90" y2="73.80" stroke="#4a4a4a" stroke-width="0.9" />
<line x1="314.60" y1="73.80" x2="316.20" y2="73.80" stroke="#4a4a4a" stroke-width="0.9" />
<line x1="208.50" y1="161.20" x2="208.50" y2="158.20" stroke="#4a4a4a" stroke-width="0.9" />
<line x1="208.50" y1="68.40" x2="208.50" y2="71.40" stroke="#4a4a4a" stroke-width="0.9" />
<text x="208.50" y="172.40" font-size="10.2" text-anchor="middle" font-weight="normal" fill="#222" >0</text>
<line x1="251.55" y1="161.20" x2="251.55" y2="158.20" stroke="#4a4a4a" stroke-width="0.9" />
<line x1="251.55" y1="68.40" x2="251.55" y2="71.40" stroke="#4a4a4a" stroke-width="0.9" />
<text x="251.55" y="172.40" font-size="10.2" text-anchor="middle" font-weight="normal" fill="#222" >10</text>
<line x1="294.60" y1="161.20" x2="294.60" y2="158.20" stroke="#4a4a4a" stroke-width="0.9" />
<line x1="294.60" y1="68.40" x2="294.60" y2="71.40" stroke="#4a4a4a" stroke-width="0.9" />
<text x="294.60" y="172.40" font-size="10.2" text-anchor="middle" font-weight="normal" fill="#222" >20</text>
<line x1="230.03" y1="161.20" x2="230.03" y2="159.60" stroke="#4a4a4a" stroke-width="0.9" />
<line x1="230.03" y1="68.40" x2="230.03" y2="70.00" stroke="#4a4a4a" stroke-width="0.9" />
<line x1="273.07" y1="161.20" x2="273.07" y2="159.60" stroke="#4a4a4a" stroke-width="0.9" />
<line x1="273.07" y1="68.40" x2="273.07" y2="70.00" stroke="#4a4a4a" stroke-width="0.9" />
<line x1="316.12" y1="161.20" x2="316.12" y2="159.60" stroke="#4a4a4a" stroke-width="0.9" />
<line x1="316.12" y1="68.40" x2="316.12" y2="70.00" stroke="#4a4a4a" stroke-width="0.9" />
<text x="257.60" y="179.80" font-size="9.8" text-anchor="middle" font-weight="normal" fill="#111" >time [min]</text>
<text transform="translate(175.7,141.6) rotate(-90)" font-size="9.75" fill="#222"><tspan font-style="italic">G</tspan><tspan font-size="5.4" dy="3.4">cc</tspan><tspan dy="-3.4">(0)/</tspan><tspan font-style="italic">G</tspan><tspan font-size="5.4" dy="3.4">R</tspan><tspan dy="-3.4">(0)</tspan></text>
<text x="200.10" y="13.70" font-size="6.5" text-anchor="start" font-weight="bold" fill="#000" >LUVs A:</text>
<text x="200.10" y="21.90" font-size="6.95" text-anchor="start" font-weight="normal" fill="#000" >POPC/PI4P(1 mol %)/PS (20 mol %)</text>
<text x="202.50" y="37.40" font-size="6.5" text-anchor="start" font-weight="bold" fill="#000" >LUVs B:</text>
<rect x="206.80" y="40.40" width="6.90" height="6.20" stroke="none" stroke-width="0" fill="#000"/>
<rect x="206.80" y="48.90" width="6.90" height="6.20" stroke="none" stroke-width="0" fill="#ff1a0a"/>
<rect x="206.80" y="57.30" width="6.90" height="6.40" stroke="none" stroke-width="0" fill="#0808ff"/>
<text x="219.90" y="45.60" font-size="6.9" text-anchor="start" font-weight="normal" fill="#000" >no</text>
<text x="219.90" y="54.50" font-size="6.9" text-anchor="start" font-weight="normal" fill="#000" >POPC</text>
<text x="219.90" y="62.80" font-size="6.9" text-anchor="start" font-weight="normal" fill="#000" >POPC/POPS (20 %)</text>
<defs>
<radialGradient id="og" cx="0.45" cy="0.4" r="0.55"><stop offset="0" stop-color="#5a5a5a"/><stop offset="0.6" stop-color="#2a2a2a"/><stop offset="1" stop-color="#050505"/></radialGradient>
<path id="osh" d="M0.4 14.5C0 13 0 12.5 0 11.7C0.1 10 0.4 8.5 0.7 7.5C1.2 5.5 1.6 4 2.1 2.6C2.6 1.2 3.2 0.1 4.2 0C5.2 -0.1 6 0.3 6.6 0.9C7.4 1.6 7.8 2.6 8.3 3.3C9 4 9.8 4.1 10.4 4.4C11.2 4.7 11.8 4.9 12 5.4C12.2 6 12.1 6.6 11.8 7.2C11.4 8 10.8 8.8 10.4 9.6C9.8 10.8 9.6 12 9.4 13.1C9.2 14.3 9.1 15.5 9 16.5C8.4 17.1 7.6 17.3 7 17.2C7 16 6.9 14.8 6.6 13.8C6.4 12.8 6.3 11.9 5.9 11.3C5.5 10.7 5.1 10.3 4.5 10.3C3.9 10.3 3.5 10.7 3.1 11.3C2.7 12 2.4 12.9 2.1 13.8C1.6 14.5 0.9 14.8 0.4 14.5Z" fill="url(#og)"/>
</defs>
<circle cx="370.2" cy="66.2" r="13.2" fill="none" stroke="#cecece" stroke-width="4.8"/>
<circle cx="370.2" cy="66.2" r="15.6" fill="none" stroke="#989898" stroke-width="0.7"/>
<circle cx="370.2" cy="66.2" r="10.8" fill="none" stroke="#989898" stroke-width="0.7"/>
<circle cx="362.70" cy="51.00" r="2.0" fill="#6a8494" stroke="#33434d" stroke-width="0.6"/>
<circle cx="371.70" cy="48.70" r="2.0" fill="#6a8494" stroke="#33434d" stroke-width="0.6"/>
<circle cx="354.60" cy="58.40" r="2.0" fill="#6a8494" stroke="#33434d" stroke-width="0.6"/>
<circle cx="387.40" cy="59.60" r="2.0" fill="#6a8494" stroke="#33434d" stroke-width="0.6"/>
<circle cx="369.40" cy="58.40" r="2.0" fill="#6a8494" stroke="#33434d" stroke-width="0.6"/>
<circle cx="353.20" cy="70.70" r="2.0" fill="#6a8494" stroke="#33434d" stroke-width="0.6"/>
<circle cx="364.30" cy="71.40" r="2.0" fill="#6a8494" stroke="#33434d" stroke-width="0.6"/>
<circle cx="377.00" cy="71.40" r="2.0" fill="#6a8494" stroke="#33434d" stroke-width="0.6"/>
<circle cx="387.40" cy="71.90" r="2.0" fill="#6a8494" stroke="#33434d" stroke-width="0.6"/>
<circle cx="365.00" cy="81.60" r="2.0" fill="#6a8494" stroke="#33434d" stroke-width="0.6"/>
<circle cx="378.20" cy="81.10" r="2.0" fill="#6a8494" stroke="#33434d" stroke-width="0.6"/>
<text x="370.59999999999997" y="70.0" font-size="10.4" text-anchor="middle" fill="#222">B</text>
<path d="M331.8 106.8L339.3 107.0C343.0 110.5 344.6 114.0 344.4 117.5C344.2 121.5 343.2 125.5 341.8 129.0L343.8 134.4L329.4 133.4L335.2 126.4L337.9 128.0C339.4 124.5 340.4 121.0 340.4 117.5C340.4 114.0 337.5 110.5 331.8 106.8Z" fill="#4a4a4a"/>
<path d="M389.2 106.8L381.7 107.0C378.0 110.5 376.4 114.0 376.6 117.5C376.8 121.5 377.8 125.5 379.2 129.0L377.2 134.4L391.6 133.4L385.8 126.4L383.1 128.0C381.6 124.5 380.6 121.0 380.6 117.5C380.6 114.0 383.5 110.5 389.2 106.8Z" fill="#4a4a4a"/>
<circle cx="360.5" cy="116.4" r="12.6" fill="none" stroke="#f6f6b4" stroke-width="5.4"/>
<circle cx="360.5" cy="116.4" r="15.2" fill="none" stroke="#8a8a3a" stroke-width="0.7" stroke-dasharray="0.8 0.9"/>
<circle cx="360.5" cy="116.4" r="10.0" fill="#fff" stroke="#8a8a3a" stroke-width="0.7" stroke-dasharray="0.8 0.9"/>
<circle cx="351.11" cy="102.84" r="2.0" fill="#f0d832" stroke="#666" stroke-width="0.4"/>
<circle cx="355.43" cy="100.59" r="2.0" fill="#2a9fd6" stroke="#666" stroke-width="0.4"/>
<circle cx="360.12" cy="99.65" r="2.0" fill="#2a9fd6" stroke="#666" stroke-width="0.4"/>
<circle cx="365.76" cy="100.96" r="2.0" fill="#f0d832" stroke="#666" stroke-width="0.4"/>
<circle cx="370.45" cy="103.40" r="2.0" fill="#f03030" stroke="#666" stroke-width="0.4"/>
<circle cx="374.02" cy="108.47" r="2.0" fill="#f0d832" stroke="#666" stroke-width="0.4"/>
<circle cx="376.46" cy="113.54" r="2.0" fill="#2a9fd6" stroke="#666" stroke-width="0.4"/>
<circle cx="376.84" cy="119.37" r="2.0" fill="#2a9fd6" stroke="#666" stroke-width="0.4"/>
<circle cx="374.58" cy="124.81" r="2.0" fill="#f0d832" stroke="#666" stroke-width="0.4"/>
<circle cx="371.77" cy="129.51" r="2.0" fill="#f03030" stroke="#666" stroke-width="0.4"/>
<circle cx="365.57" cy="132.89" r="2.0" fill="#f0d832" stroke="#666" stroke-width="0.4"/>
<circle cx="359.56" cy="134.20" r="2.0" fill="#2a9fd6" stroke="#666" stroke-width="0.4"/>
<circle cx="353.55" cy="132.89" r="2.0" fill="#2a9fd6" stroke="#666" stroke-width="0.4"/>
<circle cx="348.85" cy="129.69" r="2.0" fill="#f0d832" stroke="#666" stroke-width="0.4"/>
<circle cx="344.91" cy="125.00" r="2.0" fill="#f03030" stroke="#666" stroke-width="0.4"/>
<circle cx="343.22" cy="119.74" r="2.0" fill="#2a9fd6" stroke="#666" stroke-width="0.4"/>
<circle cx="343.60" cy="114.67" r="2.0" fill="#f0d832" stroke="#666" stroke-width="0.4"/>
<circle cx="346.41" cy="108.47" r="2.0" fill="#2a9fd6" stroke="#666" stroke-width="0.4"/>
<circle cx="354.30" cy="110.35" r="1.9" fill="#2a9fd6" stroke="#666" stroke-width="0.4"/>
<circle cx="364.82" cy="110.35" r="1.9" fill="#2a9fd6" stroke="#666" stroke-width="0.4"/>
<circle cx="362.00" cy="124.44" r="1.9" fill="#2a9fd6" stroke="#666" stroke-width="0.4"/>
<text x="360.5" y="120.0" font-size="10.2" text-anchor="middle" fill="#111">A</text>
<use href="#osh" x="328.5" y="86.3"/>
<use href="#osh" x="384.5" y="86.5"/>
<use href="#osh" x="327.8" y="136.3"/>
<use href="#osh" x="383.8" y="136.3"/>
<circle cx="388.70" cy="99.90" r="2.0" fill="#2a9fd6" stroke="#1a6f98" stroke-width="0.4"/>
<circle cx="332.50" cy="149.60" r="2.0" fill="#2a9fd6" stroke="#1a6f98" stroke-width="0.4"/>
<circle cx="388.00" cy="149.20" r="2.0" fill="#f0d832" stroke="#a89a20" stroke-width="0.4"/>
<line x1="330.40" y1="162.60" x2="331.60" y2="164.60" stroke="#777" stroke-width="0.6" />
<circle cx="329.80" cy="161.60" r="1.7" fill="#f0d832" stroke="#8a7a20" stroke-width="0.4"/>
<line x1="354.40" y1="162.40" x2="355.80" y2="164.40" stroke="#777" stroke-width="0.6" />
<circle cx="353.60" cy="161.30" r="1.7" fill="#2a9fd6" stroke="#1a6f98" stroke-width="0.4"/>
<text x="334.2" y="164" font-size="5.9" font-family="'DejaVu Sans', 'Liberation Sans', sans-serif" fill="#222" stroke="none">PI4P</text>
<text x="359" y="164" font-size="5.9" font-family="'DejaVu Sans', 'Liberation Sans', sans-serif" fill="#222" stroke="none">PS</text>
<use href="#osh" transform="translate(372.6,158.2) scale(0.52,0.42)"/>
<text x="379.2" y="164" font-size="6" font-family="'DejaVu Sans', 'Liberation Sans', sans-serif" fill="#222" stroke="none">Osh6</text>
<rect x="445.60" y="46.80" width="28.40" height="13.50" stroke="#000" stroke-width="1.3" fill="none"/>
<line x1="445.60" y1="50.60" x2="474.00" y2="50.60" stroke="#000" stroke-width="1.3" />
<path d="M449.70 47.60L454.00 43.70L458.30 47.60L454.00 51.50Z" fill="#000"/>
<path d="M456.00 48.60L460.30 44.70L464.60 48.60L460.30 52.50Z" fill="#000"/>
<path d="M460.70 48.80L465.00 44.90L469.30 48.80L465.00 52.70Z" fill="#000"/>
<path d="M465.40 49.60L469.70 45.70L474.00 49.60L469.70 53.50Z" fill="#000"/>
<path d="M443.70 54.00L448.00 50.10L452.30 54.00L448.00 57.90Z" fill="#000"/>
<path d="M466.10 52.40L470.40 48.50L474.70 52.40L470.40 56.30Z" fill="#000"/>
<path d="M455.50 57.70L459.80 53.80L464.10 57.70L459.80 61.60Z" fill="#000"/>
<path d="M455.50 69.70L459.80 65.80L464.10 69.70L459.80 73.60Z" fill="#000"/>
<path d="M447.20 50.50L451.50 46.60L455.80 50.50L451.50 54.40Z" fill="#000"/>
<path d="M452.70 52.00L457.00 48.10L461.30 52.00L457.00 55.90Z" fill="#000"/>
<rect x="479.30" y="51.60" width="29.40" height="6.80" stroke="#ff1a0a" stroke-width="1.3" fill="none"/>
<line x1="479.30" y1="55.00" x2="508.70" y2="55.00" stroke="#ff1a0a" stroke-width="1.3" />
<path d="M479.90 52.60L484.20 48.70L488.50 52.60L484.20 56.50Z" fill="#ff1a0a"/>
<path d="M484.50 56.50L488.80 52.60L493.10 56.50L488.80 60.40Z" fill="#ff1a0a"/>
<path d="M482.20 54.50L486.50 50.60L490.80 54.50L486.50 58.40Z" fill="#ff1a0a"/>
<path d="M487.20 53.50L491.50 49.60L495.80 53.50L491.50 57.40Z" fill="#ff1a0a"/>
<path d="M489.70 52.40L494.00 48.50L498.30 52.40L494.00 56.30Z" fill="#ff1a0a"/>
<path d="M490.30 57.80L494.60 53.90L498.90 57.80L494.60 61.70Z" fill="#ff1a0a"/>
<path d="M493.20 55.00L497.50 51.10L501.80 55.00L497.50 58.90Z" fill="#ff1a0a"/>
<path d="M496.20 53.20L500.50 49.30L504.80 53.20L500.50 57.10Z" fill="#ff1a0a"/>
<path d="M499.40 52.00L503.70 48.10L508.00 52.00L503.70 55.90Z" fill="#ff1a0a"/>
<path d="M499.40 55.60L503.70 51.70L508.00 55.60L503.70 59.50Z" fill="#ff1a0a"/>
<path d="M501.90 54.20L506.20 50.30L510.50 54.20L506.20 58.10Z" fill="#ff1a0a"/>
<path d="M494.70 57.00L499.00 53.10L503.30 57.00L499.00 60.90Z" fill="#ff1a0a"/>
<rect x="515.00" y="103.70" width="28.30" height="20.70" stroke="#0808ff" stroke-width="1.3" fill="none"/>
<line x1="515.00" y1="119.00" x2="543.30" y2="119.00" stroke="#0808ff" stroke-width="1.3" />
<path d="M519.90 99.60L524.20 95.70L528.50 99.60L524.20 103.50Z" fill="#0808ff"/>
<path d="M529.30 97.00L533.60 93.10L537.90 97.00L533.60 100.90Z" fill="#0808ff"/>
<path d="M519.90 106.00L524.20 102.10L528.50 106.00L524.20 109.90Z" fill="#0808ff"/>
<path d="M529.30 112.30L533.60 108.40L537.90 112.30L533.60 116.20Z" fill="#0808ff"/>
<path d="M534.10 116.30L538.40 112.40L542.70 116.30L538.40 120.20Z" fill="#0808ff"/>
<path d="M515.30 120.90L519.60 117.00L523.90 120.90L519.60 124.80Z" fill="#0808ff"/>
<path d="M525.50 121.70L529.80 117.80L534.10 121.70L529.80 125.60Z" fill="#0808ff"/>
<path d="M534.10 128.40L538.40 124.50L542.70 128.40L538.40 132.30Z" fill="#0808ff"/>
<path d="M522.20 118.50L526.50 114.60L530.80 118.50L526.50 122.40Z" fill="#0808ff"/>
<path d="M516.20 118.50L520.50 114.60L524.80 118.50L520.50 122.40Z" fill="#0808ff"/>
<path d="M549.10 130.50L553.40 125.90L557.70 130.50L553.40 135.10Z" fill="#000"/>
<path d="M554.30 130.50L558.60 125.90L562.90 130.50L558.60 135.10Z" fill="#000"/>
<path d="M559.50 130.50L563.80 125.90L568.10 130.50L563.80 135.10Z" fill="#000"/>
<path d="M564.70 130.50L569.00 125.90L573.30 130.50L569.00 135.10Z" fill="#000"/>
<path d="M569.90 130.50L574.20 125.90L578.50 130.50L574.20 135.10Z" fill="#000"/>
<line x1="549.50" y1="130.40" x2="577.50" y2="130.40" stroke="#000" stroke-width="1.0" />
<rect x="584.00" y="108.30" width="28.50" height="12.10" stroke="#ff1a0a" stroke-width="1.3" fill="none"/>
<line x1="584.00" y1="114.50" x2="612.50" y2="114.50" stroke="#ff1a0a" stroke-width="1.3" />
<path d="M594.50 102.50L598.80 98.60L603.10 102.50L598.80 106.40Z" fill="#ff1a0a"/>
<path d="M589.70 109.00L594.00 105.10L598.30 109.00L594.00 112.90Z" fill="#ff1a0a"/>
<path d="M599.20 109.00L603.50 105.10L607.80 109.00L603.50 112.90Z" fill="#ff1a0a"/>
<path d="M583.20 114.00L587.50 110.10L591.80 114.00L587.50 117.90Z" fill="#ff1a0a"/>
<path d="M592.70 115.50L597.00 111.60L601.30 115.50L597.00 119.40Z" fill="#ff1a0a"/>
<path d="M602.70 114.00L607.00 110.10L611.30 114.00L607.00 117.90Z" fill="#ff1a0a"/>
<path d="M587.70 118.80L592.00 114.90L596.30 118.80L592.00 122.70Z" fill="#ff1a0a"/>
<path d="M597.70 118.80L602.00 114.90L606.30 118.80L602.00 122.70Z" fill="#ff1a0a"/>
<path d="M593.70 122.20L598.00 118.30L602.30 122.20L598.00 126.10Z" fill="#ff1a0a"/>
<path d="M605.70 115.50L610.00 111.60L614.30 115.50L610.00 119.40Z" fill="#ff1a0a"/>
<path d="M586.20 112.00L590.50 108.10L594.80 112.00L590.50 115.90Z" fill="#ff1a0a"/>
<path d="M601.20 118.00L605.50 114.10L609.80 118.00L605.50 121.90Z" fill="#ff1a0a"/>
<rect x="619.00" y="73.70" width="28.00" height="19.00" stroke="#0808ff" stroke-width="1.3" fill="none"/>
<line x1="619.00" y1="84.00" x2="647.00" y2="84.00" stroke="#0808ff" stroke-width="1.3" />
<path d="M629.00 65.40L633.30 61.50L637.60 65.40L633.30 69.30Z" fill="#0808ff"/>
<path d="M629.00 72.60L633.30 68.70L637.60 72.60L633.30 76.50Z" fill="#0808ff"/>
<path d="M626.20 78.10L630.50 74.20L634.80 78.10L630.50 82.00Z" fill="#0808ff"/>
<path d="M633.10 78.10L637.40 74.20L641.70 78.10L637.40 82.00Z" fill="#0808ff"/>
<path d="M618.10 83.90L622.40 80.00L626.70 83.90L622.40 87.80Z" fill="#0808ff"/>
<path d="M640.10 82.70L644.40 78.80L648.70 82.70L644.40 86.60Z" fill="#0808ff"/>
<path d="M622.70 81.50L627.00 77.60L631.30 81.50L627.00 85.40Z" fill="#0808ff"/>
<path d="M636.20 81.00L640.50 77.10L644.80 81.00L640.50 84.90Z" fill="#0808ff"/>
<path d="M618.10 90.80L622.40 86.90L626.70 90.80L622.40 94.70Z" fill="#0808ff"/>
<path d="M625.50 93.50L629.80 89.60L634.10 93.50L629.80 97.40Z" fill="#0808ff"/>
<path d="M633.10 90.80L637.40 86.90L641.70 90.80L637.40 94.70Z" fill="#0808ff"/>
<path d="M640.10 90.80L644.40 86.90L648.70 90.80L644.40 94.70Z" fill="#0808ff"/>
<rect x="442.60" y="13.40" width="207.40" height="123.80" stroke="#000" stroke-width="1.3" fill="none"/>
<line x1="547.00" y1="13.40" x2="547.00" y2="137.20" stroke="#000" stroke-width="1.3" />
<line x1="442.60" y1="130.70" x2="445.60" y2="130.70" stroke="#000" stroke-width="1.0" />
<line x1="647.00" y1="130.70" x2="650.00" y2="130.70" stroke="#000" stroke-width="1.0" />
<text x="439.40" y="135.00" font-size="10.2" text-anchor="end" font-weight="normal" fill="#111" >0.0</text>
<line x1="442.60" y1="85.00" x2="445.60" y2="85.00" stroke="#000" stroke-width="1.0" />
<line x1="647.00" y1="85.00" x2="650.00" y2="85.00" stroke="#000" stroke-width="1.0" />
<text x="439.40" y="89.30" font-size="10.2" text-anchor="end" font-weight="normal" fill="#111" >0.5</text>
<line x1="442.60" y1="39.30" x2="445.60" y2="39.30" stroke="#000" stroke-width="1.0" />
<line x1="647.00" y1="39.30" x2="650.00" y2="39.30" stroke="#000" stroke-width="1.0" />
<text x="439.40" y="43.60" font-size="10.2" text-anchor="end" font-weight="normal" fill="#111" >1.0</text>
<line x1="442.60" y1="107.85" x2="444.20" y2="107.85" stroke="#000" stroke-width="1.0" />
<line x1="648.40" y1="107.85" x2="650.00" y2="107.85" stroke="#000" stroke-width="1.0" />
<line x1="442.60" y1="62.15" x2="444.20" y2="62.15" stroke="#000" stroke-width="1.0" />
<line x1="648.40" y1="62.15" x2="650.00" y2="62.15" stroke="#000" stroke-width="1.0" />
<line x1="442.60" y1="16.45" x2="444.20" y2="16.45" stroke="#000" stroke-width="1.0" />
<line x1="648.40" y1="16.45" x2="650.00" y2="16.45" stroke="#000" stroke-width="1.0" />
<line x1="457.70" y1="27.30" x2="527.40" y2="27.30" stroke="#000" stroke-width="1.5" />
<text x="482.70" y="24.60" font-size="9.6" text-anchor="start" fill="#111">p &lt; 10<tspan font-size="6.2" dy="-4.4">-13</tspan></text>
<line x1="489.70" y1="43.70" x2="524.80" y2="43.70" stroke="#000" stroke-width="1.5" />
<text x="496.70" y="40.40" font-size="9.6" text-anchor="start" fill="#111">p &lt; 10<tspan font-size="6.2" dy="-4.4">-11</tspan></text>
<line x1="560.00" y1="79.50" x2="596.00" y2="79.50" stroke="#000" stroke-width="1.5" />
<text x="567.00" y="76.60" font-size="9.6" text-anchor="start" fill="#111">p &lt; 10<tspan font-size="6.2" dy="-4.4">-7</tspan></text>
<line x1="597.80" y1="45.80" x2="633.70" y2="45.80" stroke="#000" stroke-width="1.5" />
<text x="603.30" y="41.80" font-size="9.6" text-anchor="start" fill="#111">p &lt; 10<tspan font-size="6.2" dy="-4.4">-3</tspan></text>
<text x="418.00" y="154.30" font-size="9.2" text-anchor="start" font-weight="bold" fill="#111" >LUVs B</text>
<text x="462.90" y="154.30" font-size="9.5" text-anchor="middle" font-weight="normal" fill="#111" >no</text>
<text x="494.80" y="154.30" font-size="9.5" text-anchor="middle" font-weight="normal" fill="#111" >PC</text>
<text x="532.00" y="154.30" font-size="9.5" text-anchor="middle" font-weight="normal" fill="#111" >PC/PS</text>
<text x="566.00" y="154.30" font-size="9.5" text-anchor="middle" font-weight="normal" fill="#111" >no</text>
<text x="601.60" y="154.30" font-size="9.5" text-anchor="middle" font-weight="normal" fill="#111" >PC</text>
<text x="636.30" y="154.30" font-size="9.5" text-anchor="middle" font-weight="normal" fill="#111" >PC/PS</text>
<line x1="428.60" y1="160.00" x2="673.00" y2="160.00" stroke="#000" stroke-width="1.3" />
<text x="418.00" y="172.40" font-size="9.2" text-anchor="start" font-weight="bold" fill="#111" >LUVs A</text>
<text x="496.30" y="172.40" font-size="9.45" text-anchor="middle" font-weight="normal" fill="#111" >PI4P (1 mol %)</text>
<text x="609.50" y="172.40" font-size="9.45" text-anchor="middle" font-weight="normal" fill="#111" >PI4P (1 mol %)/PS (20 mol %)</text>
<text transform="translate(672.90,151.20) rotate(-90)" font-size="9.45" text-anchor="start" font-weight="normal" fill="#111">PI4P fraction removed from LUVs A</text>
<text transform="translate(684.90,153.00) rotate(-90)" font-size="9.45" text-anchor="start" font-weight="normal" fill="#111">after 10-minute incubation with Osh6</text>
<rect x="42.90" y="272.20" width="31.00" height="10.40" stroke="#000" stroke-width="1.1" fill="none"/>
<line x1="42.90" y1="278.60" x2="73.90" y2="278.60" stroke="#000" stroke-width="1.1" />
<path d="M51.40 271.30L54.90 268.05L58.40 271.30L54.90 274.55Z" fill="#000"/>
<path d="M57.70 269.20L61.20 265.95L64.70 269.20L61.20 272.45Z" fill="#000"/>
<path d="M42.60 279.30L46.10 276.05L49.60 279.30L46.10 282.55Z" fill="#000"/>
<path d="M48.20 278.80L51.70 275.55L55.20 278.80L51.70 282.05Z" fill="#000"/>
<path d="M53.00 280.00L56.50 276.75L60.00 280.00L56.50 283.25Z" fill="#000"/>
<path d="M57.70 276.50L61.20 273.25L64.70 276.50L61.20 279.75Z" fill="#000"/>
<path d="M62.50 279.30L66.00 276.05L69.50 279.30L66.00 282.55Z" fill="#000"/>
<path d="M66.80 279.50L70.30 276.25L73.80 279.50L70.30 282.75Z" fill="#000"/>
<path d="M54.70 287.10L58.20 283.85L61.70 287.10L58.20 290.35Z" fill="#000"/>
<path d="M60.00 280.20L63.50 276.95L67.00 280.20L63.50 283.45Z" fill="#000"/>
<rect x="80.30" y="267.30" width="31.50" height="8.60" stroke="#000" stroke-width="1.1" fill="none"/>
<line x1="80.30" y1="271.40" x2="111.80" y2="271.40" stroke="#000" stroke-width="1.1" />
<path d="M92.60 264.40L96.10 261.15L99.60 264.40L96.10 267.65Z" fill="#000"/>
<path d="M80.00 268.20L83.50 264.95L87.00 268.20L83.50 271.45Z" fill="#000"/>
<path d="M105.40 270.30L108.90 267.05L112.40 270.30L108.90 273.55Z" fill="#000"/>
<path d="M98.20 271.30L101.70 268.05L105.20 271.30L101.70 274.55Z" fill="#000"/>
<path d="M90.40 270.60L93.90 267.35L97.40 270.60L93.90 273.85Z" fill="#000"/>
<path d="M85.90 269.30L89.40 266.05L92.90 269.30L89.40 272.55Z" fill="#000"/>
<path d="M89.10 278.20L92.60 274.95L96.10 278.20L92.60 281.45Z" fill="#000"/>
<path d="M95.60 278.20L99.10 274.95L102.60 278.20L99.10 281.45Z" fill="#000"/>
<path d="M94.30 274.50L97.80 271.25L101.30 274.50L97.80 277.75Z" fill="#000"/>
<path d="M102.00 269.20L105.50 265.95L109.00 269.20L105.50 272.45Z" fill="#000"/>
<path d="M83.00 270.50L86.50 267.25L90.00 270.50L86.50 273.75Z" fill="#000"/>
<path d="M117.40 264.40L120.80 261.20L124.20 264.40L120.80 267.60Z" fill="#000"/>
<path d="M120.25 265.70L123.65 262.50L127.05 265.70L123.65 268.90Z" fill="#000"/>
<path d="M123.10 264.40L126.50 261.20L129.90 264.40L126.50 267.60Z" fill="#000"/>
<path d="M125.95 265.70L129.35 262.50L132.75 265.70L129.35 268.90Z" fill="#000"/>
<path d="M128.80 264.40L132.20 261.20L135.60 264.40L132.20 267.60Z" fill="#000"/>
<path d="M131.65 265.70L135.05 262.50L138.45 265.70L135.05 268.90Z" fill="#000"/>
<path d="M134.50 264.40L137.90 261.20L141.30 264.40L137.90 267.60Z" fill="#000"/>
<path d="M137.35 265.70L140.75 262.50L144.15 265.70L140.75 268.90Z" fill="#000"/>
<path d="M140.20 264.40L143.60 261.20L147.00 264.40L143.60 267.60Z" fill="#000"/>
<path d="M143.05 265.70L146.45 262.50L149.85 265.70L146.45 268.90Z" fill="#000"/>
<rect x="156.00" y="268.00" width="31.20" height="8.60" stroke="#000" stroke-width="1.1" fill="none"/>
<line x1="156.00" y1="271.80" x2="187.20" y2="271.80" stroke="#000" stroke-width="1.1" />
<path d="M156.00 271.50L159.50 268.25L163.00 271.50L159.50 274.75Z" fill="#000"/>
<path d="M160.00 270.00L163.50 266.75L167.00 270.00L163.50 273.25Z" fill="#000"/>
<path d="M164.00 272.50L167.50 269.25L171.00 272.50L167.50 275.75Z" fill="#000"/>
<path d="M167.90 270.50L171.40 267.25L174.90 270.50L171.40 273.75Z" fill="#000"/>
<path d="M172.00 272.80L175.50 269.55L179.00 272.80L175.50 276.05Z" fill="#000"/>
<path d="M176.00 270.00L179.50 266.75L183.00 270.00L179.50 273.25Z" fill="#000"/>
<path d="M180.00 271.80L183.50 268.55L187.00 271.80L183.50 275.05Z" fill="#000"/>
<path d="M167.70 281.20L171.20 277.95L174.70 281.20L171.20 284.45Z" fill="#000"/>
<path d="M160.30 266.60L163.80 263.35L167.30 266.60L163.80 269.85Z" fill="#000"/>
<path d="M175.10 267.00L178.60 263.75L182.10 267.00L178.60 270.25Z" fill="#000"/>
<rect x="193.90" y="288.40" width="30.40" height="18.10" stroke="#000" stroke-width="1.1" fill="none"/>
<line x1="193.90" y1="299.30" x2="224.30" y2="299.30" stroke="#000" stroke-width="1.1" />
<path d="M205.60 284.80L209.10 281.55L212.60 284.80L209.10 288.05Z" fill="#000"/>
<path d="M213.10 288.00L216.60 284.75L220.10 288.00L216.60 291.25Z" fill="#000"/>
<path d="M198.00 291.00L201.50 287.75L205.00 291.00L201.50 294.25Z" fill="#000"/>
<path d="M205.60 296.50L209.10 293.25L212.60 296.50L209.10 299.75Z" fill="#000"/>
<path d="M198.00 301.40L201.50 298.15L205.00 301.40L201.50 304.65Z" fill="#000"/>
<path d="M213.10 302.10L216.60 298.85L220.10 302.10L216.60 305.35Z" fill="#000"/>
<path d="M205.60 305.00L209.10 301.75L212.60 305.00L209.10 308.25Z" fill="#000"/>
<path d="M205.60 310.80L209.10 307.55L212.60 310.80L209.10 314.05Z" fill="#000"/>
<rect x="39.60" y="212.40" width="188.40" height="103.10" stroke="#000" stroke-width="1.2" fill="none"/>
<line x1="39.10" y1="293.60" x2="42.20" y2="293.60" stroke="#000" stroke-width="1.0" />
<line x1="225.40" y1="293.60" x2="228.00" y2="293.60" stroke="#000" stroke-width="1.0" />
<text x="37.00" y="296.40" font-size="7.8" text-anchor="end" font-weight="normal" fill="#222" >0.0</text>
<line x1="39.10" y1="266.50" x2="42.20" y2="266.50" stroke="#000" stroke-width="1.0" />
<line x1="225.40" y1="266.50" x2="228.00" y2="266.50" stroke="#000" stroke-width="1.0" />
<text x="37.00" y="269.30" font-size="7.8" text-anchor="end" font-weight="normal" fill="#222" >0.5</text>
<line x1="39.10" y1="239.40" x2="42.20" y2="239.40" stroke="#000" stroke-width="1.0" />
<line x1="225.40" y1="239.40" x2="228.00" y2="239.40" stroke="#000" stroke-width="1.0" />
<text x="37.00" y="242.20" font-size="7.8" text-anchor="end" font-weight="normal" fill="#222" >1.0</text>
<line x1="39.10" y1="212.30" x2="42.20" y2="212.30" stroke="#000" stroke-width="1.0" />
<line x1="225.40" y1="212.30" x2="228.00" y2="212.30" stroke="#000" stroke-width="1.0" />
<text x="37.00" y="215.10" font-size="7.8" text-anchor="end" font-weight="normal" fill="#222" >1.5</text>
<line x1="39.60" y1="280.05" x2="41.20" y2="280.05" stroke="#000" stroke-width="0.9" />
<line x1="226.40" y1="280.05" x2="228.00" y2="280.05" stroke="#000" stroke-width="0.9" />
<line x1="39.60" y1="252.95" x2="41.20" y2="252.95" stroke="#000" stroke-width="0.9" />
<line x1="226.40" y1="252.95" x2="228.00" y2="252.95" stroke="#000" stroke-width="0.9" />
<line x1="39.60" y1="225.85" x2="41.20" y2="225.85" stroke="#000" stroke-width="0.9" />
<line x1="226.40" y1="225.85" x2="228.00" y2="225.85" stroke="#000" stroke-width="0.9" />
<line x1="39.60" y1="307.15" x2="41.20" y2="307.15" stroke="#000" stroke-width="0.9" />
<line x1="226.40" y1="307.15" x2="228.00" y2="307.15" stroke="#000" stroke-width="0.9" />
<line x1="58.50" y1="218.00" x2="209.40" y2="218.00" stroke="#111" stroke-width="1.3" />
<line x1="58.50" y1="228.90" x2="172.00" y2="228.90" stroke="#111" stroke-width="1.3" />
<line x1="58.50" y1="240.60" x2="133.80" y2="240.60" stroke="#111" stroke-width="1.3" />
<line x1="58.50" y1="251.60" x2="96.00" y2="251.60" stroke="#111" stroke-width="1.3" />
<text x="209.40" y="227.00" font-size="7.8" text-anchor="end" font-weight="normal" fill="#111" >p &lt; 0.01</text>
<text x="172.00" y="238.60" font-size="7.8" text-anchor="end" font-weight="normal" fill="#111" >p &lt; 0.05</text>
<text x="133.8" y="250" font-size="7.8" text-anchor="end" fill="#111">p &lt; 10<tspan font-size="4.8" dy="-3.3">-6</tspan></text>
<text x="60.90" y="260.80" font-size="7.8" text-anchor="start" font-weight="normal" fill="#111" >p &lt; 0.05</text>
<text x="58.20" y="323.60" font-size="7.75" text-anchor="middle" font-weight="normal" fill="#222" >no</text>
<text x="95.90" y="323.60" font-size="7.75" text-anchor="middle" font-weight="normal" fill="#222" >PA 10 %</text>
<text x="133.60" y="323.60" font-size="7.75" text-anchor="middle" font-weight="normal" fill="#222" >PAI10 %</text>
<text x="171.40" y="323.60" font-size="7.75" text-anchor="middle" font-weight="normal" fill="#222" >PG 20 %</text>
<text x="209.20" y="323.60" font-size="7.75" text-anchor="middle" font-weight="normal" fill="#222" >PS 20 %</text>
<text x="132.50" y="334.90" font-size="7.9" text-anchor="middle" font-weight="normal" fill="#222" >lipid added to POPC/PI4P (1 mol %) LUVs</text>
<text transform="translate(13.20,308.60) rotate(-90)" font-size="7.82" text-anchor="start" font-weight="normal" fill="#222">number of PI4P per Osh6</text>
<text transform="translate(23.30,319.60) rotate(-90)" font-size="7.78" text-anchor="start" font-weight="normal" fill="#222">extracted from LUVs per minute</text>
<rect x="280.00" y="249.30" width="34.40" height="5.10" stroke="#000" stroke-width="1.1" fill="none"/>
<line x1="280.00" y1="251.20" x2="314.40" y2="251.20" stroke="#000" stroke-width="1.1" />
<path d="M279.00 255.40L282.50 252.10L286.00 255.40L282.50 258.70Z" fill="#000"/>
<path d="M282.50 253.00L286.00 249.70L289.50 253.00L286.00 256.30Z" fill="#000"/>
<path d="M286.00 252.00L289.50 248.70L293.00 252.00L289.50 255.30Z" fill="#000"/>
<path d="M291.30 247.90L294.80 244.60L298.30 247.90L294.80 251.20Z" fill="#000"/>
<path d="M294.50 250.50L298.00 247.20L301.50 250.50L298.00 253.80Z" fill="#000"/>
<path d="M298.00 251.50L301.50 248.20L305.00 251.50L301.50 254.80Z" fill="#000"/>
<path d="M301.50 252.00L305.00 248.70L308.50 252.00L305.00 255.30Z" fill="#000"/>
<path d="M304.30 253.70L307.80 250.40L311.30 253.70L307.80 257.00Z" fill="#000"/>
<path d="M308.00 251.50L311.50 248.20L315.00 251.50L311.50 254.80Z" fill="#000"/>
<path d="M288.50 251.50L292.00 248.20L295.50 251.50L292.00 254.80Z" fill="#000"/>
<rect x="322.00" y="253.40" width="34.00" height="9.70" stroke="#000" stroke-width="1.1" fill="none"/>
<line x1="322.00" y1="258.20" x2="356.00" y2="258.20" stroke="#000" stroke-width="1.1" />
<path d="M345.20 250.40L348.70 247.10L352.20 250.40L348.70 253.70Z" fill="#000"/>
<path d="M331.70 254.40L335.20 251.10L338.70 254.40L335.20 257.70Z" fill="#000"/>
<path d="M338.30 254.40L341.80 251.10L345.30 254.40L341.80 257.70Z" fill="#000"/>
<path d="M325.20 255.90L328.70 252.60L332.20 255.90L328.70 259.20Z" fill="#000"/>
<path d="M321.60 260.20L325.10 256.90L328.60 260.20L325.10 263.50Z" fill="#000"/>
<path d="M328.10 258.00L331.60 254.70L335.10 258.00L331.60 261.30Z" fill="#000"/>
<path d="M334.90 258.80L338.40 255.50L341.90 258.80L338.40 262.10Z" fill="#000"/>
<path d="M341.90 261.70L345.40 258.40L348.90 261.70L345.40 265.00Z" fill="#000"/>
<path d="M348.40 261.00L351.90 257.70L355.40 261.00L351.90 264.30Z" fill="#000"/>
<path d="M334.90 266.40L338.40 263.10L341.90 266.40L338.40 269.70Z" fill="#000"/>
<path d="M349.50 257.00L353.00 253.70L356.50 257.00L353.00 260.30Z" fill="#000"/>
<rect x="363.80" y="250.80" width="34.10" height="17.00" stroke="#000" stroke-width="1.1" fill="none"/>
<line x1="363.80" y1="257.80" x2="397.90" y2="257.80" stroke="#000" stroke-width="1.1" />
<path d="M366.60 250.80L370.10 247.50L373.60 250.80L370.10 254.10Z" fill="#000"/>
<path d="M386.80 249.80L390.30 246.50L393.80 249.80L390.30 253.10Z" fill="#000"/>
<path d="M363.40 259.90L366.90 256.60L370.40 259.90L366.90 263.20Z" fill="#000"/>
<path d="M370.20 259.10L373.70 255.80L377.20 259.10L373.70 262.40Z" fill="#000"/>
<path d="M373.50 256.60L377.00 253.30L380.50 256.60L377.00 259.90Z" fill="#000"/>
<path d="M376.70 259.10L380.20 255.80L383.70 259.10L380.20 262.40Z" fill="#000"/>
<path d="M380.30 256.20L383.80 252.90L387.30 256.20L383.80 259.50Z" fill="#000"/>
<path d="M384.00 259.90L387.50 256.60L391.00 259.90L387.50 263.20Z" fill="#000"/>
<path d="M390.50 259.10L394.00 255.80L397.50 259.10L394.00 262.40Z" fill="#000"/>
<path d="M377.00 281.60L380.50 278.30L384.00 281.60L380.50 284.90Z" fill="#000"/>
<rect x="405.20" y="255.60" width="34.20" height="14.40" stroke="#000" stroke-width="1.1" fill="none"/>
<line x1="405.20" y1="259.60" x2="439.40" y2="259.60" stroke="#000" stroke-width="1.1" />
<path d="M415.70 254.20L419.20 250.90L422.70 254.20L419.20 257.50Z" fill="#000"/>
<path d="M421.50 254.50L425.00 251.20L428.50 254.50L425.00 257.80Z" fill="#000"/>
<path d="M404.60 259.10L408.10 255.80L411.60 259.10L408.10 262.40Z" fill="#000"/>
<path d="M433.10 258.80L436.60 255.50L440.10 258.80L436.60 262.10Z" fill="#000"/>
<path d="M410.00 263.40L413.50 260.10L417.00 263.40L413.50 266.70Z" fill="#000"/>
<path d="M415.70 262.00L419.20 258.70L422.70 262.00L419.20 265.30Z" fill="#000"/>
<path d="M421.50 264.60L425.00 261.30L428.50 264.60L425.00 267.90Z" fill="#000"/>
<path d="M427.00 262.00L430.50 258.70L434.00 262.00L430.50 265.30Z" fill="#000"/>
<path d="M418.60 271.10L422.10 267.80L425.60 271.10L422.10 274.40Z" fill="#000"/>
<path d="M418.60 277.30L422.10 274.00L425.60 277.30L422.10 280.60Z" fill="#000"/>
<rect x="447.00" y="302.40" width="33.80" height="9.00" stroke="#000" stroke-width="1.1" fill="none"/>
<line x1="447.00" y1="307.40" x2="480.80" y2="307.40" stroke="#000" stroke-width="1.1" />
<path d="M460.80 303.30L464.30 300.00L467.80 303.30L464.30 306.60Z" fill="#000"/>
<path d="M449.00 309.60L452.50 306.30L456.00 309.60L452.50 312.90Z" fill="#000"/>
<path d="M472.20 310.00L475.70 306.70L479.20 310.00L475.70 313.30Z" fill="#000"/>
<rect x="488.20" y="302.50" width="34.60" height="7.00" stroke="#000" stroke-width="1.1" fill="none"/>
<line x1="488.20" y1="306.20" x2="522.80" y2="306.20" stroke="#000" stroke-width="1.1" />
<path d="M487.50 308.70L491.00 305.40L494.50 308.70L491.00 312.00Z" fill="#000"/>
<path d="M492.00 307.00L495.50 303.70L499.00 307.00L495.50 310.30Z" fill="#000"/>
<path d="M496.00 305.50L499.50 302.20L503.00 305.50L499.50 308.80Z" fill="#000"/>
<path d="M499.60 299.90L503.10 296.60L506.60 299.90L503.10 303.20Z" fill="#000"/>
<path d="M504.00 302.00L507.50 298.70L511.00 302.00L507.50 305.30Z" fill="#000"/>
<path d="M500.30 308.70L503.80 305.40L507.30 308.70L503.80 312.00Z" fill="#000"/>
<path d="M508.30 309.40L511.80 306.10L515.30 309.40L511.80 312.70Z" fill="#000"/>
<path d="M511.50 306.00L515.00 302.70L518.50 306.00L515.00 309.30Z" fill="#000"/>
<path d="M515.00 307.50L518.50 304.20L522.00 307.50L518.50 310.80Z" fill="#000"/>
<path d="M518.00 308.50L521.50 305.20L525.00 308.50L521.50 311.80Z" fill="#000"/>
<rect x="530.10" y="297.30" width="34.10" height="6.30" stroke="#000" stroke-width="1.1" fill="none"/>
<line x1="530.10" y1="300.20" x2="564.20" y2="300.20" stroke="#000" stroke-width="1.1" />
<path d="M529.30 302.00L532.80 298.70L536.30 302.00L532.80 305.30Z" fill="#000"/>
<path d="M533.50 301.00L537.00 297.70L540.50 301.00L537.00 304.30Z" fill="#000"/>
<path d="M537.00 299.50L540.50 296.20L544.00 299.50L540.50 302.80Z" fill="#000"/>
<path d="M539.50 296.00L543.00 292.70L546.50 296.00L543.00 299.30Z" fill="#000"/>
<path d="M544.00 299.50L547.50 296.20L551.00 299.50L547.50 302.80Z" fill="#000"/>
<path d="M548.80 296.00L552.30 292.70L555.80 296.00L552.30 299.30Z" fill="#000"/>
<path d="M552.00 299.00L555.50 295.70L559.00 299.00L555.50 302.30Z" fill="#000"/>
<path d="M555.00 301.00L558.50 297.70L562.00 301.00L558.50 304.30Z" fill="#000"/>
<path d="M559.50 299.50L563.00 296.20L566.50 299.50L563.00 302.80Z" fill="#000"/>
<path d="M545.50 302.20L549.00 298.90L552.50 302.20L549.00 305.50Z" fill="#000"/>
<path d="M542.00 298.00L545.50 294.70L549.00 298.00L545.50 301.30Z" fill="#000"/>
<rect x="572.00" y="293.20" width="34.20" height="7.40" stroke="#000" stroke-width="1.1" fill="none"/>
<line x1="572.00" y1="296.60" x2="606.20" y2="296.60" stroke="#000" stroke-width="1.1" />
<path d="M572.00 295.00L575.50 291.70L579.00 295.00L575.50 298.30Z" fill="#000"/>
<path d="M576.00 298.00L579.50 294.70L583.00 298.00L579.50 301.30Z" fill="#000"/>
<path d="M580.00 295.50L583.50 292.20L587.00 295.50L583.50 298.80Z" fill="#000"/>
<path d="M584.00 297.50L587.50 294.20L591.00 297.50L587.50 300.80Z" fill="#000"/>
<path d="M588.00 294.50L591.50 291.20L595.00 294.50L591.50 297.80Z" fill="#000"/>
<path d="M591.50 299.00L595.00 295.70L598.50 299.00L595.00 302.30Z" fill="#000"/>
<path d="M599.00 296.50L602.50 293.20L606.00 296.50L602.50 299.80Z" fill="#000"/>
<path d="M593.50 289.20L597.00 285.90L600.50 289.20L597.00 292.50Z" fill="#000"/>
<path d="M593.50 302.90L597.00 299.60L600.50 302.90L597.00 306.20Z" fill="#000"/>
<path d="M577.50 299.50L581.00 296.20L584.50 299.50L581.00 302.80Z" fill="#000"/>
<path d="M612.60 309.00L616.00 305.90L619.40 309.00L616.00 312.10Z" fill="#000"/>
<path d="M615.38 308.70L618.78 305.60L622.18 308.70L618.78 311.80Z" fill="#000"/>
<path d="M618.16 309.80L621.56 306.70L624.96 309.80L621.56 312.90Z" fill="#000"/>
<path d="M620.94 308.50L624.34 305.40L627.74 308.50L624.34 311.60Z" fill="#000"/>
<path d="M623.72 307.00L627.12 303.90L630.52 307.00L627.12 310.10Z" fill="#000"/>
<path d="M626.50 306.60L629.90 303.50L633.30 306.60L629.90 309.70Z" fill="#000"/>
<path d="M629.28 307.40L632.68 304.30L636.08 307.40L632.68 310.50Z" fill="#000"/>
<path d="M632.06 307.80L635.46 304.70L638.86 307.80L635.46 310.90Z" fill="#000"/>
<path d="M634.84 308.20L638.24 305.10L641.64 308.20L638.24 311.30Z" fill="#000"/>
<path d="M637.62 308.60L641.02 305.50L644.42 308.60L641.02 311.70Z" fill="#000"/>
<path d="M640.40 308.40L643.80 305.30L647.20 308.40L643.80 311.50Z" fill="#000"/>
<path d="M643.18 308.90L646.58 305.80L649.98 308.90L646.58 312.00Z" fill="#000"/>
<rect x="276.40" y="211.70" width="375.40" height="103.80" stroke="#000" stroke-width="1.2" fill="none"/>
<line x1="276.40" y1="311.30" x2="279.20" y2="311.30" stroke="#000" stroke-width="1.0" />
<line x1="649.00" y1="311.30" x2="651.80" y2="311.30" stroke="#000" stroke-width="1.0" />
<text x="273.80" y="314.20" font-size="8.1" text-anchor="end" font-weight="normal" fill="#222" >0.0</text>
<line x1="276.40" y1="273.20" x2="279.20" y2="273.20" stroke="#000" stroke-width="1.0" />
<line x1="649.00" y1="273.20" x2="651.80" y2="273.20" stroke="#000" stroke-width="1.0" />
<text x="273.80" y="276.10" font-size="8.1" text-anchor="end" font-weight="normal" fill="#222" >0.5</text>
<line x1="276.40" y1="235.10" x2="279.20" y2="235.10" stroke="#000" stroke-width="1.0" />
<line x1="649.00" y1="235.10" x2="651.80" y2="235.10" stroke="#000" stroke-width="1.0" />
<text x="273.80" y="238.00" font-size="8.1" text-anchor="end" font-weight="normal" fill="#222" >1.0</text>
<line x1="276.40" y1="292.25" x2="278.00" y2="292.25" stroke="#000" stroke-width="0.9" />
<line x1="650.20" y1="292.25" x2="651.80" y2="292.25" stroke="#000" stroke-width="0.9" />
<line x1="276.40" y1="254.15" x2="278.00" y2="254.15" stroke="#000" stroke-width="0.9" />
<line x1="650.20" y1="254.15" x2="651.80" y2="254.15" stroke="#000" stroke-width="0.9" />
<line x1="276.40" y1="216.05" x2="278.00" y2="216.05" stroke="#000" stroke-width="0.9" />
<line x1="650.20" y1="216.05" x2="651.80" y2="216.05" stroke="#000" stroke-width="0.9" />
<line x1="295.40" y1="218.00" x2="417.50" y2="218.00" stroke="#111" stroke-width="1.3" />
<line x1="295.40" y1="227.40" x2="376.60" y2="227.40" stroke="#111" stroke-width="1.3" />
<line x1="295.40" y1="236.50" x2="338.30" y2="236.50" stroke="#111" stroke-width="1.3" />
<text x="392.40" y="226.20" font-size="7.8" text-anchor="start" font-weight="normal" fill="#111" >p &lt; 0.001</text>
<text x="357.60" y="237.40" font-size="7.8" text-anchor="start" font-weight="normal" fill="#111" >p &lt; 0.05</text>
<text x="318.00" y="246.40" font-size="7.8" text-anchor="start" font-weight="normal" fill="#111" >p &lt; 0.001</text>
<line x1="548.30" y1="228.40" x2="630.40" y2="228.40" stroke="#111" stroke-width="1.3" />
<line x1="548.30" y1="245.00" x2="588.90" y2="245.00" stroke="#111" stroke-width="1.3" />
<line x1="507.70" y1="260.80" x2="548.30" y2="260.80" stroke="#111" stroke-width="1.3" />
<text x="601.6" y="239.8" font-size="7.8" fill="#111">p &lt; 10<tspan font-size="4.8" dy="-3.3">-7</tspan></text>
<text x="555.00" y="255.50" font-size="7.8" text-anchor="start" font-weight="normal" fill="#111" >p &lt; 0.05</text>
<text x="515.8" y="272.2" font-size="7.8" fill="#111">p &lt; 10<tspan font-size="4.8" dy="-3.3">-4</tspan></text>
<text x="298.80" y="325.50" font-size="8.05" text-anchor="middle" font-weight="normal" fill="#222" >-</text>
<text x="344.40" y="325.50" font-size="8.05" text-anchor="middle" font-weight="normal" fill="#222" >PA 5 %</text>
<text x="383.60" y="325.50" font-size="8.05" text-anchor="middle" font-weight="normal" fill="#222" >PI 5 %</text>
<text x="425.60" y="325.50" font-size="8.05" text-anchor="middle" font-weight="normal" fill="#222" >PG 5 %</text>
<text x="466.50" y="325.50" font-size="8.05" text-anchor="middle" font-weight="normal" fill="#222" >PI4P 5 %</text>
<text x="505.80" y="325.50" font-size="8.05" text-anchor="middle" font-weight="normal" fill="#222" >PG 30 %</text>
<text x="547.70" y="325.50" font-size="8.05" text-anchor="middle" font-weight="normal" fill="#222" >PG 20 %</text>
<text x="589.50" y="325.50" font-size="8.05" text-anchor="middle" font-weight="normal" fill="#222" >PG 10 %</text>
<text x="628.70" y="325.50" font-size="8.05" text-anchor="middle" font-weight="normal" fill="#222" >PG 20 %</text>
<text x="660.40" y="325.50" font-size="8.05" text-anchor="middle" font-weight="normal" fill="#222" >x</text>
<line x1="271.60" y1="329.20" x2="669.30" y2="329.20" stroke="#111" stroke-width="1.0" />
<text x="298.80" y="333.80" font-size="8.05" text-anchor="middle" font-weight="normal" fill="#222" >-</text>
<text x="339.80" y="333.80" font-size="8.05" text-anchor="middle" font-weight="normal" fill="#222" >-</text>
<text x="382.00" y="333.80" font-size="8.05" text-anchor="middle" font-weight="normal" fill="#222" >-</text>
<text x="423.10" y="333.80" font-size="8.05" text-anchor="middle" font-weight="normal" fill="#222" >-</text>
<text x="464.30" y="333.80" font-size="8.05" text-anchor="middle" font-weight="normal" fill="#222" >-</text>
<text x="506.00" y="333.80" font-size="8.05" text-anchor="middle" font-weight="normal" fill="#222" >-</text>
<text x="546.50" y="333.80" font-size="8.05" text-anchor="middle" font-weight="normal" fill="#222" >-</text>
<text x="588.00" y="333.80" font-size="8.05" text-anchor="middle" font-weight="normal" fill="#222" >-</text>
<text x="628.70" y="337.30" font-size="8.05" text-anchor="middle" font-weight="normal" fill="#222" >PI4P 1 %</text>
<text x="660.40" y="337.30" font-size="8.05" text-anchor="middle" font-weight="normal" fill="#222" >y</text>
<text x="379.10" y="343.30" font-size="8.16" text-anchor="start" font-weight="normal" fill="#222" >lipids (x,y) added to POPC/PS (1 mol %) LUVs</text>
<text transform="translate(246.50,310.60) rotate(-90)" font-size="8.13" text-anchor="start" font-weight="normal" fill="#222">number of PS per Osh6</text>
<text transform="translate(257.20,325.40) rotate(-90)" font-size="8.16" text-anchor="start" font-weight="normal" fill="#222">extracted from LUVs per minute</text>
</svg></body></html>
